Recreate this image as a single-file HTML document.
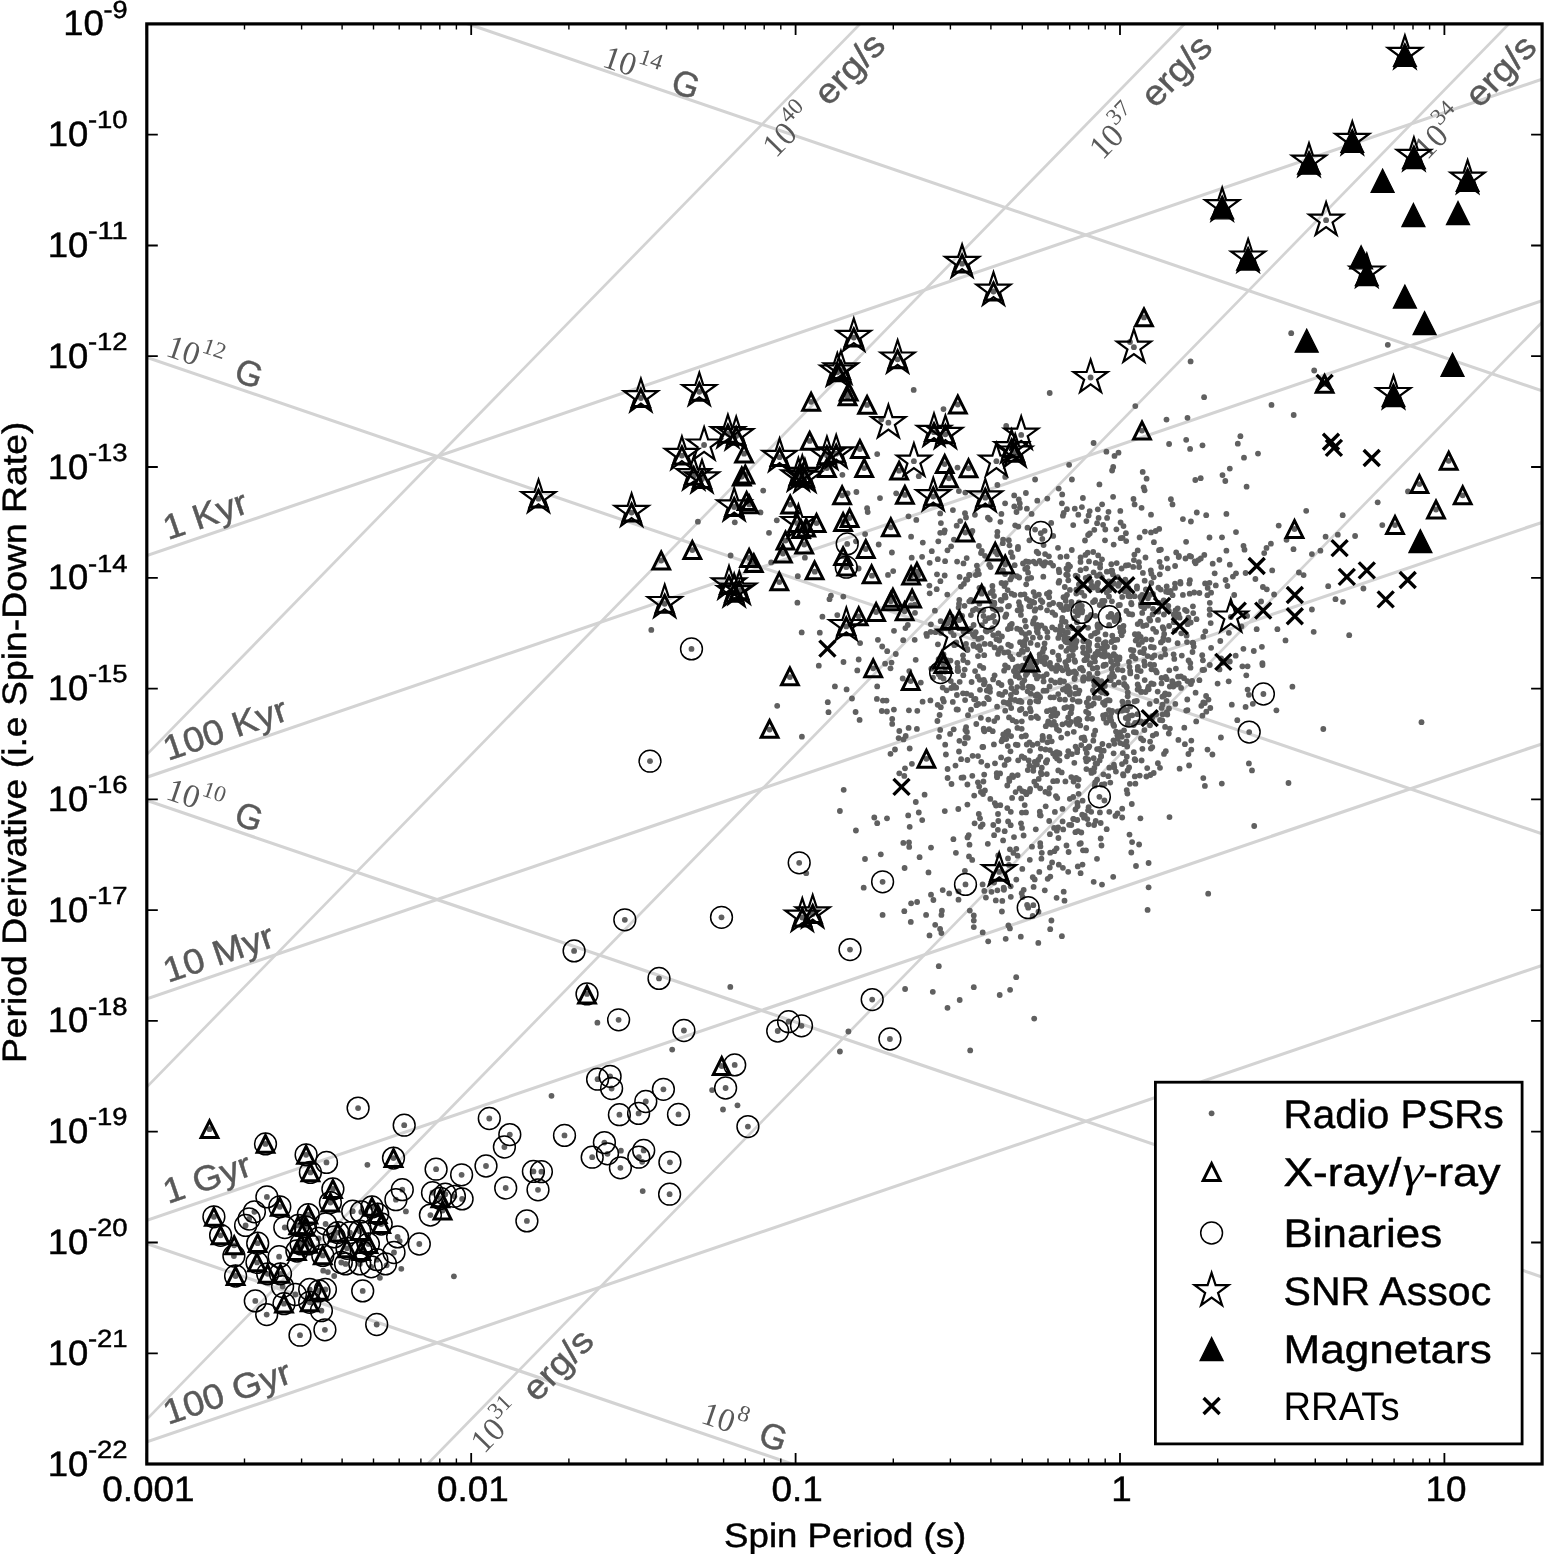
<!DOCTYPE html>
<html><head><meta charset="utf-8"><title>P-Pdot diagram</title>
<style>html,body{margin:0;padding:0;background:#fff}svg{display:block;filter:grayscale(1)}</style></head>
<body>
<svg width="1544" height="1554" viewBox="0 0 1544 1554" font-family="Liberation Sans, sans-serif" text-rendering="geometricPrecision">
<rect width="1544" height="1554" fill="#fff"/>
<defs><clipPath id="cp"><rect x="146.8" y="23.9" width="1395.2541305933955" height="1440.14"/></clipPath>
<polygon id="st" points="0.00,-17.80 4.00,-5.50 16.93,-5.50 6.47,2.10 10.46,14.40 0.00,6.80 -10.46,14.40 -6.47,2.10 -16.93,-5.50 -4.00,-5.50" fill="none" stroke="#000" stroke-width="2.2" stroke-linejoin="miter"/>
<polygon id="ot" points="0,-8.4 -8.4,8.4 8.4,8.4" fill="none" stroke="#000" stroke-width="3.0" stroke-linejoin="miter"/>
<polygon id="ft" points="0,-11.5 -11.5,11.5 11.5,11.5" fill="#000" stroke="#000" stroke-width="1.3" stroke-linejoin="miter"/>
<circle id="ci" r="10.9" fill="none" stroke="#000" stroke-width="1.5"/>
<path id="cr" d="M-8,-8L8,8M-8,8L8,-8" fill="none" stroke="#000" stroke-width="3.4"/>
<circle id="d" r="2.9" fill="#606060"/>
</defs>
<g clip-path="url(#cp)" stroke="#d3d3d1" stroke-width="3.1" fill="none">
<line x1="81.9" y1="1221.5" x2="1606.6" y2="1742.1"/>
<line x1="81.9" y1="778.3" x2="1606.6" y2="1299.0"/>
<line x1="81.9" y1="335.2" x2="1606.6" y2="855.9"/>
<line x1="81.9" y1="-107.9" x2="1606.6" y2="412.8"/>
<line x1="81.9" y1="577.8" x2="1606.6" y2="57.1"/>
<line x1="81.9" y1="799.4" x2="1606.6" y2="278.7"/>
<line x1="81.9" y1="1020.9" x2="1606.6" y2="500.3"/>
<line x1="81.9" y1="1242.5" x2="1606.6" y2="721.8"/>
<line x1="81.9" y1="1464.1" x2="1606.6" y2="943.4"/>
<line x1="81.9" y1="1818.1" x2="1606.6" y2="256.1" stroke-width="2.7"/>
<line x1="81.9" y1="1485.8" x2="1606.6" y2="-76.2" stroke-width="2.7"/>
<line x1="81.9" y1="1153.5" x2="1606.6" y2="-408.5" stroke-width="2.7"/>
<line x1="81.9" y1="821.1" x2="1606.6" y2="-740.9" stroke-width="2.7"/>
</g>
<g transform="translate(601.0,66.0) rotate(18.85)" fill="#595959"><text x="0" y="0" font-family="Liberation Serif, serif" font-size="33.0" textLength="33" lengthAdjust="spacingAndGlyphs">10</text><text x="33.5" y="-15" font-family="Liberation Serif, serif" font-size="23.0" textLength="23.5" lengthAdjust="spacingAndGlyphs">14</text><text x="63.0" y="1.8" font-size="35.2" textLength="36.6" lengthAdjust="spacingAndGlyphs" xml:space="preserve" fill="#595959" stroke="#595959" stroke-width="0.45"> G</text></g>
<g transform="translate(164.4,355.3) rotate(18.85)" fill="#595959"><text x="0" y="0" font-family="Liberation Serif, serif" font-size="33.0" textLength="33" lengthAdjust="spacingAndGlyphs">10</text><text x="33.5" y="-15" font-family="Liberation Serif, serif" font-size="23.0" textLength="23.5" lengthAdjust="spacingAndGlyphs">12</text><text x="63.0" y="1.8" font-size="35.2" textLength="36.6" lengthAdjust="spacingAndGlyphs" xml:space="preserve" fill="#595959" stroke="#595959" stroke-width="0.45"> G</text></g>
<g transform="translate(164.4,798.5) rotate(18.85)" fill="#595959"><text x="0" y="0" font-family="Liberation Serif, serif" font-size="33.0" textLength="33" lengthAdjust="spacingAndGlyphs">10</text><text x="33.5" y="-15" font-family="Liberation Serif, serif" font-size="23.0" textLength="23.5" lengthAdjust="spacingAndGlyphs">10</text><text x="63.0" y="1.8" font-size="35.2" textLength="36.6" lengthAdjust="spacingAndGlyphs" xml:space="preserve" fill="#595959" stroke="#595959" stroke-width="0.45"> G</text></g>
<g transform="translate(699.5,1422.3) rotate(18.85)" fill="#595959"><text x="0" y="0" font-family="Liberation Serif, serif" font-size="33.0" textLength="33" lengthAdjust="spacingAndGlyphs">10</text><text x="33.5" y="-15" font-family="Liberation Serif, serif" font-size="23.0" textLength="12" lengthAdjust="spacingAndGlyphs">8</text><text x="51.5" y="1.8" font-size="35.2" textLength="36.6" lengthAdjust="spacingAndGlyphs" xml:space="preserve" fill="#595959" stroke="#595959" stroke-width="0.45"> G</text></g>
<g transform="translate(168.0,540.2) rotate(-18.85)" fill="#595959"><text x="0.0" y="0.0" font-size="35.2" textLength="86.6" lengthAdjust="spacingAndGlyphs" xml:space="preserve" fill="#595959" stroke="#595959" stroke-width="0.45">1 Kyr</text></g>
<g transform="translate(168.0,761.0) rotate(-18.85)" fill="#595959"><text x="0.0" y="0.0" font-size="35.2" textLength="128.7" lengthAdjust="spacingAndGlyphs" xml:space="preserve" fill="#595959" stroke="#595959" stroke-width="0.45">100 Kyr</text></g>
<g transform="translate(168.0,983.0) rotate(-18.85)" fill="#595959"><text x="0.0" y="0.0" font-size="35.2" textLength="114.5" lengthAdjust="spacingAndGlyphs" xml:space="preserve" fill="#595959" stroke="#595959" stroke-width="0.45">10 Myr</text></g>
<g transform="translate(168.0,1204.0) rotate(-18.85)" fill="#595959"><text x="0.0" y="0.0" font-size="35.2" textLength="90.5" lengthAdjust="spacingAndGlyphs" xml:space="preserve" fill="#595959" stroke="#595959" stroke-width="0.45">1 Gyr</text></g>
<g transform="translate(168.0,1425.0) rotate(-18.85)" fill="#595959"><text x="0.0" y="0.0" font-size="35.2" textLength="132.7" lengthAdjust="spacingAndGlyphs" xml:space="preserve" fill="#595959" stroke="#595959" stroke-width="0.45">100 Gyr</text></g>
<g transform="translate(775.7,158.7) rotate(-45.69)" fill="#595959"><text x="0" y="0" font-family="Liberation Serif, serif" font-size="33.0" textLength="33" lengthAdjust="spacingAndGlyphs">10</text><text x="33.5" y="-15" font-family="Liberation Serif, serif" font-size="23.0" textLength="23.5" lengthAdjust="spacingAndGlyphs">40</text><text x="63.0" y="1.8" font-size="35.2" textLength="95.0" lengthAdjust="spacingAndGlyphs" xml:space="preserve" fill="#595959" stroke="#595959" stroke-width="0.45"> erg/s</text></g>
<g transform="translate(1102.5,160.7) rotate(-45.69)" fill="#595959"><text x="0" y="0" font-family="Liberation Serif, serif" font-size="33.0" textLength="33" lengthAdjust="spacingAndGlyphs">10</text><text x="33.5" y="-15" font-family="Liberation Serif, serif" font-size="23.0" textLength="23.5" lengthAdjust="spacingAndGlyphs">37</text><text x="63.0" y="1.8" font-size="35.2" textLength="95.0" lengthAdjust="spacingAndGlyphs" xml:space="preserve" fill="#595959" stroke="#595959" stroke-width="0.45"> erg/s</text></g>
<g transform="translate(1426.9,160.7) rotate(-45.69)" fill="#595959"><text x="0" y="0" font-family="Liberation Serif, serif" font-size="33.0" textLength="33" lengthAdjust="spacingAndGlyphs">10</text><text x="33.5" y="-15" font-family="Liberation Serif, serif" font-size="23.0" textLength="23.5" lengthAdjust="spacingAndGlyphs">34</text><text x="63.0" y="1.8" font-size="35.2" textLength="95.0" lengthAdjust="spacingAndGlyphs" xml:space="preserve" fill="#595959" stroke="#595959" stroke-width="0.45"> erg/s</text></g>
<g transform="translate(484.1,1454.6) rotate(-45.69)" fill="#595959"><text x="0" y="0" font-family="Liberation Serif, serif" font-size="33.0" textLength="33" lengthAdjust="spacingAndGlyphs">10</text><text x="33.5" y="-15" font-family="Liberation Serif, serif" font-size="23.0" textLength="23.5" lengthAdjust="spacingAndGlyphs">31</text><text x="63.0" y="1.8" font-size="35.2" textLength="95.0" lengthAdjust="spacingAndGlyphs" xml:space="preserve" fill="#595959" stroke="#595959" stroke-width="0.45"> erg/s</text></g>
<g clip-path="url(#cp)">
<g>
<use href="#d" x="1326.1" y="220.2"/>
<use href="#d" x="1291.2" y="333.2"/>
<use href="#d" x="1387.8" y="344.8"/>
<use href="#d" x="1190.6" y="361.4"/>
<use href="#d" x="1314.2" y="370.5"/>
<use href="#d" x="1204.1" y="397.2"/>
<use href="#d" x="913.7" y="389.9"/>
<use href="#d" x="1049.7" y="393.0"/>
<use href="#d" x="1090.6" y="377.5"/>
<use href="#d" x="1133.9" y="347.2"/>
<use href="#d" x="1130.0" y="342.0"/>
<use href="#d" x="697.9" y="521.7"/>
<use href="#d" x="734.8" y="522.3"/>
<use href="#d" x="760.5" y="512.4"/>
<use href="#d" x="763.2" y="490.6"/>
<use href="#d" x="730.6" y="555.5"/>
<use href="#d" x="651.3" y="629.9"/>
<use href="#d" x="704.1" y="445.0"/>
<use href="#d" x="691.5" y="648.9"/>
<use href="#d" x="650.0" y="761.2"/>
<use href="#d" x="1271.5" y="404.9"/>
<use href="#d" x="1293.7" y="415.0"/>
<use href="#d" x="1166.5" y="419.6"/>
<use href="#d" x="1187.5" y="417.8"/>
<use href="#d" x="1240.4" y="436.2"/>
<use href="#d" x="1237.8" y="443.7"/>
<use href="#d" x="1186.2" y="439.8"/>
<use href="#d" x="1169.1" y="444.0"/>
<use href="#d" x="1190.1" y="448.9"/>
<use href="#d" x="1202.5" y="445.3"/>
<use href="#d" x="1258.0" y="453.6"/>
<use href="#d" x="1244.0" y="457.7"/>
<use href="#d" x="1229.8" y="468.6"/>
<use href="#d" x="1222.5" y="475.1"/>
<use href="#d" x="1200.7" y="478.2"/>
<use href="#d" x="1195.3" y="480.0"/>
<use href="#d" x="1225.3" y="481.0"/>
<use href="#d" x="1246.6" y="486.7"/>
<use href="#d" x="1146.6" y="478.7"/>
<use href="#d" x="1170.9" y="499.2"/>
<use href="#d" x="1172.5" y="504.4"/>
<use href="#d" x="1306.2" y="510.8"/>
<use href="#d" x="1342.7" y="515.2"/>
<use href="#d" x="1226.4" y="513.9"/>
<use href="#d" x="1206.2" y="515.2"/>
<use href="#d" x="1182.9" y="519.1"/>
<use href="#d" x="1151.0" y="514.7"/>
<use href="#d" x="1278.7" y="525.6"/>
<use href="#d" x="1155.7" y="531.0"/>
<use href="#d" x="1236.0" y="532.1"/>
<use href="#d" x="1209.5" y="537.5"/>
<use href="#d" x="1222.0" y="537.3"/>
<use href="#d" x="1286.5" y="539.8"/>
<use href="#d" x="1325.6" y="536.7"/>
<use href="#d" x="1337.8" y="534.7"/>
<use href="#d" x="1355.1" y="536.0"/>
<use href="#d" x="1377.7" y="502.3"/>
<use href="#d" x="1408.0" y="491.4"/>
<use href="#d" x="1382.3" y="525.1"/>
<use href="#d" x="1270.9" y="543.7"/>
<use href="#d" x="1266.5" y="547.9"/>
<use href="#d" x="1243.5" y="545.8"/>
<use href="#d" x="1244.5" y="549.7"/>
<use href="#d" x="1293.5" y="549.2"/>
<use href="#d" x="1311.9" y="554.1"/>
<use href="#d" x="1320.4" y="550.7"/>
<use href="#d" x="1264.2" y="553.1"/>
<use href="#d" x="1226.4" y="550.7"/>
<use href="#d" x="1185.5" y="558.5"/>
<use href="#d" x="1198.4" y="560.1"/>
<use href="#d" x="1219.4" y="559.8"/>
<use href="#d" x="1212.7" y="563.7"/>
<use href="#d" x="1229.8" y="564.7"/>
<use href="#d" x="1175.1" y="566.0"/>
<use href="#d" x="1272.2" y="570.4"/>
<use href="#d" x="1298.9" y="572.5"/>
<use href="#d" x="1303.6" y="575.1"/>
<use href="#d" x="1214.7" y="573.3"/>
<use href="#d" x="1236.0" y="573.3"/>
<use href="#d" x="1232.9" y="576.6"/>
<use href="#d" x="1245.6" y="573.0"/>
<use href="#d" x="1255.4" y="579.0"/>
<use href="#d" x="1225.6" y="580.0"/>
<use href="#d" x="1209.5" y="582.8"/>
<use href="#d" x="1215.8" y="585.4"/>
<use href="#d" x="1227.4" y="586.0"/>
<use href="#d" x="1189.3" y="583.6"/>
<use href="#d" x="1180.5" y="583.6"/>
<use href="#d" x="1262.9" y="587.0"/>
<use href="#d" x="1266.8" y="589.3"/>
<use href="#d" x="1328.2" y="586.2"/>
<use href="#d" x="1363.4" y="588.5"/>
<use href="#d" x="1335.5" y="599.2"/>
<use href="#d" x="1343.0" y="601.8"/>
<use href="#d" x="1274.1" y="594.5"/>
<use href="#d" x="1234.2" y="595.0"/>
<use href="#d" x="1211.1" y="592.7"/>
<use href="#d" x="1261.1" y="601.5"/>
<use href="#d" x="1311.9" y="609.5"/>
<use href="#d" x="1313.7" y="631.8"/>
<use href="#d" x="1349.2" y="635.2"/>
<use href="#d" x="1277.4" y="629.2"/>
<use href="#d" x="1256.7" y="629.2"/>
<use href="#d" x="1285.5" y="640.4"/>
<use href="#d" x="1261.9" y="646.8"/>
<use href="#d" x="1262.4" y="663.2"/>
<use href="#d" x="1242.4" y="666.3"/>
<use href="#d" x="1247.6" y="666.3"/>
<use href="#d" x="1246.3" y="675.3"/>
<use href="#d" x="1228.7" y="681.3"/>
<use href="#d" x="1292.4" y="686.7"/>
<use href="#d" x="1247.6" y="689.6"/>
<use href="#d" x="1248.9" y="694.8"/>
<use href="#d" x="1276.4" y="710.3"/>
<use href="#d" x="1252.8" y="703.8"/>
<use href="#d" x="1245.6" y="706.9"/>
<use href="#d" x="1237.3" y="720.2"/>
<use href="#d" x="1220.9" y="737.5"/>
<use href="#d" x="1323.3" y="729.0"/>
<use href="#d" x="1421.5" y="722.2"/>
<use href="#d" x="1248.9" y="763.4"/>
<use href="#d" x="1252.0" y="770.4"/>
<use href="#d" x="1263.4" y="694.0"/>
<use href="#d" x="1249.2" y="732.1"/>
<use href="#d" x="1149.7" y="595.0"/>
<use href="#d" x="888.4" y="422.7"/>
<use href="#d" x="881.3" y="419.5"/>
<use href="#d" x="943.5" y="409.1"/>
<use href="#d" x="913.9" y="461.2"/>
<use href="#d" x="877.2" y="454.1"/>
<use href="#d" x="842.4" y="474.8"/>
<use href="#d" x="856.4" y="492.0"/>
<use href="#d" x="847.6" y="493.3"/>
<use href="#d" x="880.0" y="498.1"/>
<use href="#d" x="896.2" y="493.3"/>
<use href="#d" x="867.1" y="508.2"/>
<use href="#d" x="867.7" y="512.1"/>
<use href="#d" x="776.8" y="520.3"/>
<use href="#d" x="769.0" y="532.8"/>
<use href="#d" x="908.5" y="516.3"/>
<use href="#d" x="916.3" y="519.9"/>
<use href="#d" x="940.2" y="513.4"/>
<use href="#d" x="940.9" y="523.1"/>
<use href="#d" x="865.1" y="534.1"/>
<use href="#d" x="878.7" y="544.5"/>
<use href="#d" x="911.1" y="536.7"/>
<use href="#d" x="922.8" y="542.6"/>
<use href="#d" x="891.9" y="552.5"/>
<use href="#d" x="911.7" y="557.7"/>
<use href="#d" x="922.1" y="556.8"/>
<use href="#d" x="931.8" y="551.2"/>
<use href="#d" x="940.2" y="532.8"/>
<use href="#d" x="938.3" y="541.3"/>
<use href="#d" x="804.9" y="557.7"/>
<use href="#d" x="771.2" y="562.4"/>
<use href="#d" x="797.8" y="576.2"/>
<use href="#d" x="893.2" y="571.1"/>
<use href="#d" x="888.0" y="574.9"/>
<use href="#d" x="937.0" y="574.3"/>
<use href="#d" x="847.2" y="543.9"/>
<use href="#d" x="846.3" y="567.2"/>
<use href="#d" x="856.0" y="541.3"/>
<use href="#d" x="858.6" y="568.5"/>
<use href="#d" x="1135.3" y="406.1"/>
<use href="#d" x="1006.2" y="425.9"/>
<use href="#d" x="1021.2" y="434.9"/>
<use href="#d" x="1093.6" y="443.0"/>
<use href="#d" x="1106.4" y="451.7"/>
<use href="#d" x="1118.5" y="452.7"/>
<use href="#d" x="1114.5" y="455.9"/>
<use href="#d" x="1069.1" y="464.8"/>
<use href="#d" x="1113.2" y="466.9"/>
<use href="#d" x="1112.1" y="470.5"/>
<use href="#d" x="1142.7" y="471.9"/>
<use href="#d" x="957.5" y="467.6"/>
<use href="#d" x="1005.2" y="476.9"/>
<use href="#d" x="1035.1" y="479.5"/>
<use href="#d" x="1071.9" y="479.5"/>
<use href="#d" x="997.4" y="485.0"/>
<use href="#d" x="1099.4" y="484.4"/>
<use href="#d" x="1058.7" y="488.6"/>
<use href="#d" x="958.9" y="491.1"/>
<use href="#d" x="965.3" y="492.6"/>
<use href="#d" x="1025.9" y="493.0"/>
<use href="#d" x="1062.2" y="494.4"/>
<use href="#d" x="1082.9" y="498.0"/>
<use href="#d" x="1113.1" y="496.8"/>
<use href="#d" x="1133.5" y="499.0"/>
<use href="#d" x="1047.3" y="498.6"/>
<use href="#d" x="1037.3" y="500.7"/>
<use href="#d" x="1019.8" y="503.5"/>
<use href="#d" x="1014.3" y="506.5"/>
<use href="#d" x="1026.9" y="508.7"/>
<use href="#d" x="1102.1" y="504.3"/>
<use href="#d" x="1141.6" y="507.8"/>
<use href="#d" x="952.9" y="510.1"/>
<use href="#d" x="965.0" y="513.2"/>
<use href="#d" x="966.0" y="517.5"/>
<use href="#d" x="974.9" y="514.8"/>
<use href="#d" x="1001.4" y="513.9"/>
<use href="#d" x="989.8" y="519.6"/>
<use href="#d" x="1000.4" y="521.8"/>
<use href="#d" x="1066.9" y="509.2"/>
<use href="#d" x="1074.8" y="508.7"/>
<use href="#d" x="1081.9" y="507.2"/>
<use href="#d" x="1089.7" y="511.1"/>
<use href="#d" x="1108.5" y="511.8"/>
<use href="#d" x="1062.9" y="515.7"/>
<use href="#d" x="1078.3" y="514.7"/>
<use href="#d" x="1088.6" y="515.4"/>
<use href="#d" x="1098.6" y="517.9"/>
<use href="#d" x="1107.1" y="517.9"/>
<use href="#d" x="1086.4" y="521.1"/>
<use href="#d" x="1097.1" y="523.2"/>
<use href="#d" x="1073.2" y="525.1"/>
<use href="#d" x="1051.2" y="522.9"/>
<use href="#d" x="1015.2" y="525.3"/>
<use href="#d" x="1120.6" y="522.5"/>
<use href="#d" x="1123.5" y="526.1"/>
<use href="#d" x="1116.4" y="529.3"/>
<use href="#d" x="1125.9" y="533.2"/>
<use href="#d" x="996.4" y="461.2"/>
<use href="#d" x="997.4" y="531.8"/>
<use href="#d" x="972.4" y="531.0"/>
<use href="#d" x="1003.1" y="539.6"/>
<use href="#d" x="944.7" y="530.3"/>
<use href="#d" x="953.9" y="539.6"/>
<use href="#d" x="947.5" y="550.3"/>
<use href="#d" x="966.7" y="558.1"/>
<use href="#d" x="945.1" y="561.2"/>
<use href="#d" x="978.9" y="546.0"/>
<use href="#d" x="981.0" y="553.1"/>
<use href="#d" x="1009.5" y="545.3"/>
<use href="#d" x="1010.9" y="552.4"/>
<use href="#d" x="944.7" y="575.5"/>
<use href="#d" x="940.4" y="581.2"/>
<use href="#d" x="959.6" y="576.9"/>
<use href="#d" x="969.6" y="575.2"/>
<use href="#d" x="978.9" y="574.1"/>
<use href="#d" x="929.7" y="593.3"/>
<use href="#d" x="961.0" y="586.6"/>
<use href="#d" x="992.4" y="585.9"/>
<use href="#d" x="1035.1" y="529.6"/>
<use href="#d" x="1040.8" y="533.2"/>
<use href="#d" x="1042.3" y="538.9"/>
<use href="#d" x="1029.4" y="540.3"/>
<use href="#d" x="830.9" y="595.6"/>
<use href="#d" x="829.5" y="599.2"/>
<use href="#d" x="843.3" y="596.6"/>
<use href="#d" x="797.4" y="602.7"/>
<use href="#d" x="822.4" y="616.7"/>
<use href="#d" x="837.3" y="615.1"/>
<use href="#d" x="801.7" y="632.4"/>
<use href="#d" x="819.8" y="632.7"/>
<use href="#d" x="860.1" y="643.1"/>
<use href="#d" x="877.9" y="639.8"/>
<use href="#d" x="882.2" y="646.5"/>
<use href="#d" x="887.2" y="651.2"/>
<use href="#d" x="894.0" y="630.8"/>
<use href="#d" x="905.4" y="628.1"/>
<use href="#d" x="903.2" y="640.2"/>
<use href="#d" x="914.7" y="639.8"/>
<use href="#d" x="895.8" y="654.0"/>
<use href="#d" x="858.7" y="659.5"/>
<use href="#d" x="843.5" y="662.0"/>
<use href="#d" x="818.8" y="665.7"/>
<use href="#d" x="857.3" y="670.4"/>
<use href="#d" x="885.1" y="663.7"/>
<use href="#d" x="891.5" y="662.6"/>
<use href="#d" x="890.5" y="668.3"/>
<use href="#d" x="909.3" y="671.1"/>
<use href="#d" x="834.9" y="686.4"/>
<use href="#d" x="846.6" y="689.4"/>
<use href="#d" x="877.2" y="686.4"/>
<use href="#d" x="852.0" y="698.5"/>
<use href="#d" x="827.8" y="702.2"/>
<use href="#d" x="876.9" y="698.9"/>
<use href="#d" x="882.9" y="700.6"/>
<use href="#d" x="886.5" y="700.6"/>
<use href="#d" x="777.2" y="705.8"/>
<use href="#d" x="828.5" y="712.2"/>
<use href="#d" x="855.6" y="712.0"/>
<use href="#d" x="881.8" y="711.0"/>
<use href="#d" x="886.9" y="711.5"/>
<use href="#d" x="893.9" y="709.6"/>
<use href="#d" x="908.9" y="710.3"/>
<use href="#d" x="859.6" y="719.9"/>
<use href="#d" x="892.2" y="718.9"/>
<use href="#d" x="892.2" y="723.9"/>
<use href="#d" x="801.9" y="736.7"/>
<use href="#d" x="899.3" y="731.0"/>
<use href="#d" x="908.6" y="727.9"/>
<use href="#d" x="898.6" y="738.1"/>
<use href="#d" x="905.7" y="736.0"/>
<use href="#d" x="895.0" y="749.5"/>
<use href="#d" x="890.5" y="753.8"/>
<use href="#d" x="909.7" y="748.5"/>
<use href="#d" x="911.9" y="763.8"/>
<use href="#d" x="905.0" y="768.3"/>
<use href="#d" x="899.3" y="773.3"/>
<use href="#d" x="904.3" y="775.9"/>
<use href="#d" x="789.9" y="677.1"/>
<use href="#d" x="769.6" y="729.6"/>
<use href="#d" x="779.3" y="582.1"/>
<use href="#d" x="814.8" y="571.7"/>
<use href="#d" x="872.0" y="575.7"/>
<use href="#d" x="799.2" y="862.8"/>
<use href="#d" x="882.6" y="881.8"/>
<use href="#d" x="965.5" y="884.4"/>
<use href="#d" x="1028.2" y="907.7"/>
<use href="#d" x="1099.4" y="796.8"/>
<use href="#d" x="850.0" y="949.6"/>
<use href="#d" x="872.2" y="999.6"/>
<use href="#d" x="889.9" y="1039.0"/>
<use href="#d" x="788.6" y="1021.7"/>
<use href="#d" x="801.5" y="1025.8"/>
<use href="#d" x="777.7" y="1031.0"/>
<use href="#d" x="747.9" y="1126.6"/>
<use href="#d" x="843.7" y="789.8"/>
<use href="#d" x="839.9" y="811.0"/>
<use href="#d" x="855.9" y="830.5"/>
<use href="#d" x="874.3" y="817.5"/>
<use href="#d" x="877.2" y="823.2"/>
<use href="#d" x="887.0" y="818.3"/>
<use href="#d" x="908.2" y="815.4"/>
<use href="#d" x="922.2" y="820.1"/>
<use href="#d" x="903.3" y="842.9"/>
<use href="#d" x="909.0" y="842.4"/>
<use href="#d" x="931.0" y="847.6"/>
<use href="#d" x="880.8" y="854.3"/>
<use href="#d" x="865.0" y="859.0"/>
<use href="#d" x="919.6" y="857.2"/>
<use href="#d" x="904.6" y="868.0"/>
<use href="#d" x="806.2" y="873.2"/>
<use href="#d" x="863.7" y="887.7"/>
<use href="#d" x="931.0" y="894.7"/>
<use href="#d" x="942.7" y="890.1"/>
<use href="#d" x="949.2" y="893.4"/>
<use href="#d" x="911.1" y="903.3"/>
<use href="#d" x="917.1" y="902.0"/>
<use href="#d" x="882.6" y="914.9"/>
<use href="#d" x="926.1" y="914.9"/>
<use href="#d" x="910.8" y="921.9"/>
<use href="#d" x="935.2" y="924.8"/>
<use href="#d" x="940.1" y="928.9"/>
<use href="#d" x="941.4" y="933.1"/>
<use href="#d" x="929.5" y="935.4"/>
<use href="#d" x="973.8" y="915.4"/>
<use href="#d" x="973.8" y="920.6"/>
<use href="#d" x="973.8" y="927.1"/>
<use href="#d" x="1005.7" y="938.8"/>
<use href="#d" x="1038.3" y="942.9"/>
<use href="#d" x="1050.2" y="929.2"/>
<use href="#d" x="1061.9" y="936.2"/>
<use href="#d" x="938.8" y="966.2"/>
<use href="#d" x="905.1" y="989.0"/>
<use href="#d" x="973.8" y="987.2"/>
<use href="#d" x="999.7" y="995.0"/>
<use href="#d" x="1010.1" y="989.8"/>
<use href="#d" x="848.4" y="1031.5"/>
<use href="#d" x="839.9" y="1051.5"/>
<use href="#d" x="970.2" y="1050.4"/>
<use href="#d" x="1093.7" y="881.8"/>
<use href="#d" x="1102.0" y="884.6"/>
<use href="#d" x="1113.2" y="876.8"/>
<use href="#d" x="1136.0" y="866.0"/>
<use href="#d" x="1131.3" y="852.5"/>
<use href="#d" x="1132.1" y="842.1"/>
<use href="#d" x="1129.5" y="834.6"/>
<use href="#d" x="1140.4" y="818.3"/>
<use href="#d" x="1044.8" y="890.3"/>
<use href="#d" x="1033.6" y="886.9"/>
<use href="#d" x="1021.7" y="893.2"/>
<use href="#d" x="1010.8" y="896.8"/>
<use href="#d" x="1002.3" y="900.9"/>
<use href="#d" x="995.8" y="900.4"/>
<use href="#d" x="997.4" y="890.3"/>
<use href="#d" x="1003.8" y="888.8"/>
<use href="#d" x="982.6" y="884.4"/>
<use href="#d" x="1034.7" y="879.4"/>
<use href="#d" x="1039.3" y="871.9"/>
<use href="#d" x="1041.4" y="858.7"/>
<use href="#d" x="1058.8" y="864.7"/>
<use href="#d" x="1062.9" y="867.8"/>
<use href="#d" x="1054.4" y="851.2"/>
<use href="#d" x="1068.6" y="852.0"/>
<use href="#d" x="1066.5" y="845.5"/>
<use href="#d" x="1086.0" y="850.4"/>
<use href="#d" x="1080.8" y="843.2"/>
<use href="#d" x="1101.5" y="845.5"/>
<use href="#d" x="1100.7" y="838.5"/>
<use href="#d" x="1081.3" y="832.5"/>
<use href="#d" x="1063.2" y="829.4"/>
<use href="#d" x="1069.1" y="824.8"/>
<use href="#d" x="1073.5" y="819.1"/>
<use href="#d" x="1087.3" y="819.1"/>
<use href="#d" x="1100.7" y="823.0"/>
<use href="#d" x="1106.7" y="829.2"/>
<use href="#d" x="1109.3" y="811.8"/>
<use href="#d" x="1122.2" y="808.7"/>
<use href="#d" x="1131.8" y="804.0"/>
<use href="#d" x="1091.2" y="811.8"/>
<use href="#d" x="624.8" y="919.8"/>
<use href="#d" x="721.5" y="917.3"/>
<use href="#d" x="574.1" y="950.9"/>
<use href="#d" x="659.0" y="978.4"/>
<use href="#d" x="587.0" y="993.9"/>
<use href="#d" x="618.6" y="1019.8"/>
<use href="#d" x="683.9" y="1030.5"/>
<use href="#d" x="734.7" y="1064.9"/>
<use href="#d" x="725.6" y="1088.0"/>
<use href="#d" x="597.6" y="1079.2"/>
<use href="#d" x="610.1" y="1076.3"/>
<use href="#d" x="611.6" y="1088.5"/>
<use href="#d" x="663.4" y="1089.3"/>
<use href="#d" x="645.8" y="1101.5"/>
<use href="#d" x="638.6" y="1113.4"/>
<use href="#d" x="619.4" y="1114.7"/>
<use href="#d" x="678.5" y="1114.4"/>
<use href="#d" x="489.3" y="1118.5"/>
<use href="#d" x="509.8" y="1134.6"/>
<use href="#d" x="504.4" y="1147.0"/>
<use href="#d" x="564.5" y="1135.4"/>
<use href="#d" x="604.4" y="1142.6"/>
<use href="#d" x="607.5" y="1153.8"/>
<use href="#d" x="592.2" y="1157.2"/>
<use href="#d" x="643.7" y="1150.4"/>
<use href="#d" x="638.8" y="1157.2"/>
<use href="#d" x="620.4" y="1167.8"/>
<use href="#d" x="669.9" y="1162.3"/>
<use href="#d" x="486.0" y="1166.0"/>
<use href="#d" x="461.6" y="1174.8"/>
<use href="#d" x="533.4" y="1171.4"/>
<use href="#d" x="541.4" y="1171.7"/>
<use href="#d" x="505.7" y="1188.0"/>
<use href="#d" x="538.0" y="1189.8"/>
<use href="#d" x="669.6" y="1194.2"/>
<use href="#d" x="526.9" y="1220.9"/>
<use href="#d" x="454.4" y="1196.3"/>
<use href="#d" x="462.1" y="1198.9"/>
<use href="#d" x="445.3" y="1194.2"/>
<use href="#d" x="730.3" y="986.9"/>
<use href="#d" x="597.4" y="1022.7"/>
<use href="#d" x="672.2" y="1049.6"/>
<use href="#d" x="551.5" y="1095.8"/>
<use href="#d" x="712.1" y="1090.1"/>
<use href="#d" x="723.0" y="1109.5"/>
<use href="#d" x="737.5" y="1105.3"/>
<use href="#d" x="620.9" y="1150.7"/>
<use href="#d" x="642.2" y="1161.8"/>
<use href="#d" x="642.7" y="1191.1"/>
<use href="#d" x="1288.5" y="783.0"/>
<use href="#d" x="1221.8" y="783.6"/>
<use href="#d" x="1203.3" y="778.1"/>
<use href="#d" x="1204.9" y="785.9"/>
<use href="#d" x="1254.2" y="826.0"/>
<use href="#d" x="1208.2" y="893.7"/>
<use href="#d" x="1148.6" y="863.0"/>
<use href="#d" x="1148.6" y="887.3"/>
<use href="#d" x="1147.6" y="909.9"/>
<use href="#d" x="1189.1" y="765.5"/>
<use href="#d" x="1212.4" y="754.5"/>
<use href="#d" x="1207.5" y="749.6"/>
<use href="#d" x="1191.3" y="749.6"/>
<use href="#d" x="1191.3" y="740.6"/>
<use href="#d" x="1178.4" y="739.9"/>
<use href="#d" x="209.5" y="1129.2"/>
<use href="#d" x="234.2" y="1245.3"/>
<use href="#d" x="265.5" y="1143.9"/>
<use href="#d" x="306.1" y="1154.8"/>
<use href="#d" x="310.4" y="1172.4"/>
<use href="#d" x="393.5" y="1158.1"/>
<use href="#d" x="332.9" y="1189.0"/>
<use href="#d" x="330.4" y="1202.6"/>
<use href="#d" x="279.8" y="1206.8"/>
<use href="#d" x="213.9" y="1216.8"/>
<use href="#d" x="220.6" y="1235.3"/>
<use href="#d" x="257.7" y="1243.2"/>
<use href="#d" x="257.0" y="1262.4"/>
<use href="#d" x="235.6" y="1276.0"/>
<use href="#d" x="267.7" y="1273.8"/>
<use href="#d" x="280.5" y="1273.8"/>
<use href="#d" x="308.3" y="1214.7"/>
<use href="#d" x="298.3" y="1225.4"/>
<use href="#d" x="305.4" y="1226.8"/>
<use href="#d" x="301.1" y="1243.9"/>
<use href="#d" x="308.3" y="1243.9"/>
<use href="#d" x="296.9" y="1251.0"/>
<use href="#d" x="319.0" y="1290.9"/>
<use href="#d" x="284.0" y="1303.7"/>
<use href="#d" x="309.7" y="1302.3"/>
<use href="#d" x="326.5" y="1162.4"/>
<use href="#d" x="358.1" y="1108.1"/>
<use href="#d" x="404.2" y="1125.2"/>
<use href="#d" x="266.9" y="1196.9"/>
<use href="#d" x="254.4" y="1211.8"/>
<use href="#d" x="249.1" y="1219.0"/>
<use href="#d" x="245.6" y="1225.4"/>
<use href="#d" x="233.9" y="1256.0"/>
<use href="#d" x="279.1" y="1256.7"/>
<use href="#d" x="284.8" y="1227.5"/>
<use href="#d" x="395.9" y="1199.7"/>
<use href="#d" x="402.3" y="1189.7"/>
<use href="#d" x="362.7" y="1290.9"/>
<use href="#d" x="255.3" y="1300.9"/>
<use href="#d" x="282.6" y="1286.6"/>
<use href="#d" x="295.4" y="1294.5"/>
<use href="#d" x="309.7" y="1289.5"/>
<use href="#d" x="325.4" y="1289.5"/>
<use href="#d" x="367.4" y="1164.8"/>
<use href="#d" x="323.2" y="1270.7"/>
<use href="#d" x="327.9" y="1272.1"/>
<use href="#d" x="334.2" y="1276.0"/>
<use href="#d" x="379.9" y="1277.8"/>
<use href="#d" x="401.3" y="1268.8"/>
<use href="#d" x="405.9" y="1211.4"/>
<use href="#d" x="386.6" y="1265.3"/>
<use href="#d" x="440.4" y="1198.4"/>
<use href="#d" x="337.8" y="1232.6"/>
<use href="#d" x="359.8" y="1231.2"/>
<use href="#d" x="368.4" y="1244.0"/>
<use href="#d" x="322.8" y="1255.4"/>
<use href="#d" x="361.3" y="1251.1"/>
<use href="#d" x="347.0" y="1248.3"/>
<use href="#d" x="372.0" y="1206.9"/>
<use href="#d" x="377.7" y="1214.1"/>
<use href="#d" x="381.2" y="1224.0"/>
<use href="#d" x="436.1" y="1169.2"/>
<use href="#d" x="432.5" y="1192.7"/>
<use href="#d" x="430.4" y="1215.1"/>
<use href="#d" x="352.7" y="1211.2"/>
<use href="#d" x="361.3" y="1211.9"/>
<use href="#d" x="325.6" y="1224.0"/>
<use href="#d" x="397.6" y="1236.9"/>
<use href="#d" x="394.0" y="1252.5"/>
<use href="#d" x="376.9" y="1259.7"/>
<use href="#d" x="371.2" y="1266.8"/>
<use href="#d" x="345.6" y="1263.9"/>
<use href="#d" x="341.3" y="1262.5"/>
<use href="#d" x="359.8" y="1263.9"/>
<use href="#d" x="334.2" y="1236.9"/>
<use href="#d" x="318.5" y="1238.3"/>
<use href="#d" x="349.9" y="1232.6"/>
<use href="#d" x="419.3" y="1244.0"/>
<use href="#d" x="321.4" y="1310.7"/>
<use href="#d" x="376.7" y="1324.5"/>
<use href="#d" x="324.9" y="1329.8"/>
<use href="#d" x="300.0" y="1335.2"/>
<use href="#d" x="453.9" y="1276.3"/>
<use href="#d" x="399.7" y="1241.1"/>
<use href="#d" x="266.7" y="1314.6"/>
<use href="#d" x="1324.6" y="383.9"/>
<use href="#d" x="1144.0" y="317.4"/>
<use href="#d" x="962.1" y="263.7"/>
<use href="#d" x="993.5" y="291.5"/>
<use href="#d" x="853.8" y="337.6"/>
<use href="#d" x="897.6" y="359.3"/>
<use href="#d" x="837.3" y="372.3"/>
<use href="#d" x="840.9" y="370.2"/>
<use href="#d" x="847.6" y="396.4"/>
<use href="#d" x="640.9" y="398.0"/>
<use href="#d" x="699.3" y="391.8"/>
<use href="#d" x="538.5" y="498.7"/>
<use href="#d" x="631.6" y="512.6"/>
<use href="#d" x="664.7" y="603.8"/>
<use href="#d" x="681.9" y="455.6"/>
<use href="#d" x="727.9" y="433.8"/>
<use href="#d" x="736.2" y="435.9"/>
<use href="#d" x="693.7" y="475.9"/>
<use href="#d" x="702.0" y="479.0"/>
<use href="#d" x="734.2" y="507.0"/>
<use href="#d" x="729.0" y="585.1"/>
<use href="#d" x="734.2" y="592.8"/>
<use href="#d" x="739.3" y="590.3"/>
<use href="#d" x="744.1" y="453.7"/>
<use href="#d" x="741.8" y="476.5"/>
<use href="#d" x="746.6" y="501.0"/>
<use href="#d" x="692.3" y="550.1"/>
<use href="#d" x="661.2" y="560.5"/>
<use href="#d" x="749.1" y="558.0"/>
<use href="#d" x="753.8" y="563.2"/>
<use href="#d" x="1448.7" y="460.8"/>
<use href="#d" x="1419.4" y="484.1"/>
<use href="#d" x="1462.7" y="495.3"/>
<use href="#d" x="1436.0" y="509.5"/>
<use href="#d" x="1395.0" y="525.1"/>
<use href="#d" x="1294.5" y="529.0"/>
<use href="#d" x="811.1" y="401.8"/>
<use href="#d" x="848.7" y="391.7"/>
<use href="#d" x="867.1" y="404.9"/>
<use href="#d" x="809.7" y="440.9"/>
<use href="#d" x="859.9" y="449.0"/>
<use href="#d" x="864.2" y="468.1"/>
<use href="#d" x="779.6" y="457.2"/>
<use href="#d" x="826.9" y="468.1"/>
<use href="#d" x="899.1" y="470.7"/>
<use href="#d" x="842.1" y="495.3"/>
<use href="#d" x="904.9" y="494.9"/>
<use href="#d" x="790.2" y="504.6"/>
<use href="#d" x="849.6" y="518.0"/>
<use href="#d" x="843.1" y="522.1"/>
<use href="#d" x="816.5" y="523.1"/>
<use href="#d" x="890.8" y="527.3"/>
<use href="#d" x="797.1" y="523.1"/>
<use href="#d" x="801.0" y="529.0"/>
<use href="#d" x="806.2" y="527.7"/>
<use href="#d" x="785.5" y="540.6"/>
<use href="#d" x="804.2" y="544.5"/>
<use href="#d" x="782.9" y="553.6"/>
<use href="#d" x="865.8" y="549.0"/>
<use href="#d" x="843.1" y="556.2"/>
<use href="#d" x="911.1" y="575.6"/>
<use href="#d" x="916.9" y="571.7"/>
<use href="#d" x="745.3" y="474.6"/>
<use href="#d" x="749.2" y="504.4"/>
<use href="#d" x="798.4" y="476.6"/>
<use href="#d" x="802.3" y="474.0"/>
<use href="#d" x="804.9" y="477.9"/>
<use href="#d" x="826.9" y="455.3"/>
<use href="#d" x="836.2" y="453.7"/>
<use href="#d" x="1011.6" y="448.5"/>
<use href="#d" x="1015.2" y="452.8"/>
<use href="#d" x="985.3" y="497.7"/>
<use href="#d" x="933.3" y="496.6"/>
<use href="#d" x="934.0" y="432.2"/>
<use href="#d" x="945.4" y="434.3"/>
<use href="#d" x="957.8" y="404.5"/>
<use href="#d" x="944.7" y="464.1"/>
<use href="#d" x="968.5" y="468.3"/>
<use href="#d" x="948.9" y="478.3"/>
<use href="#d" x="965.3" y="532.5"/>
<use href="#d" x="995.2" y="551.7"/>
<use href="#d" x="1005.2" y="564.5"/>
<use href="#d" x="981.7" y="593.7"/>
<use href="#d" x="1142.0" y="430.6"/>
<use href="#d" x="892.9" y="597.8"/>
<use href="#d" x="890.8" y="601.3"/>
<use href="#d" x="912.1" y="598.5"/>
<use href="#d" x="904.6" y="611.3"/>
<use href="#d" x="876.1" y="612.0"/>
<use href="#d" x="858.7" y="616.3"/>
<use href="#d" x="846.3" y="626.4"/>
<use href="#d" x="873.2" y="668.3"/>
<use href="#d" x="910.7" y="681.1"/>
<use href="#d" x="926.4" y="758.8"/>
<use href="#d" x="942.1" y="659.7"/>
<use href="#d" x="949.9" y="619.8"/>
<use href="#d" x="959.2" y="619.8"/>
<use href="#d" x="1030.5" y="662.6"/>
<use href="#d" x="943.3" y="664.0"/>
<use href="#d" x="999.2" y="871.9"/>
<use href="#d" x="802.3" y="917.5"/>
<use href="#d" x="812.7" y="914.1"/>
<use href="#d" x="721.7" y="1066.0"/>
<use href="#d" x="442.5" y="1210.5"/>
<use href="#d" x="1404.9" y="53.4"/>
<use href="#d" x="1352.3" y="139.4"/>
<use href="#d" x="1309.0" y="161.1"/>
<use href="#d" x="1413.9" y="155.4"/>
<use href="#d" x="1467.6" y="178.2"/>
<use href="#d" x="1222.2" y="205.7"/>
<use href="#d" x="1248.1" y="257.0"/>
<use href="#d" x="1366.8" y="272.0"/>
<use href="#d" x="1393.5" y="393.5"/>
<use href="#d" x="1230.8" y="617.0"/>
<use href="#d" x="953.7" y="635.2"/>
<use href="#d" x="940.6" y="672.6"/>
<use href="#d" x="988.6" y="618.1"/>
<use href="#d" x="1081.9" y="612.4"/>
<use href="#d" x="1109.3" y="616.7"/>
<use href="#d" x="1129.0" y="716.0"/>
<use href="#d" x="1047.3" y="631.9"/>
<use href="#d" x="1059.1" y="604.6"/>
<use href="#d" x="920.8" y="682.6"/>
<use href="#d" x="1021.7" y="736.6"/>
<use href="#d" x="1204.8" y="703.1"/>
<use href="#d" x="1066.5" y="568.5"/>
<use href="#d" x="1050.5" y="697.3"/>
<use href="#d" x="1137.8" y="666.8"/>
<use href="#d" x="1040.8" y="748.6"/>
<use href="#d" x="1108.9" y="710.1"/>
<use href="#d" x="1137.6" y="689.6"/>
<use href="#d" x="1075.6" y="746.6"/>
<use href="#d" x="1166.8" y="679.2"/>
<use href="#d" x="1130.2" y="671.1"/>
<use href="#d" x="1144.2" y="608.2"/>
<use href="#d" x="1181.3" y="633.3"/>
<use href="#d" x="1076.3" y="593.6"/>
<use href="#d" x="1098.6" y="639.5"/>
<use href="#d" x="1076.6" y="641.0"/>
<use href="#d" x="1093.2" y="657.3"/>
<use href="#d" x="943.6" y="678.7"/>
<use href="#d" x="1127.7" y="696.3"/>
<use href="#d" x="1094.4" y="768.0"/>
<use href="#d" x="1014.4" y="691.3"/>
<use href="#d" x="1066.7" y="556.4"/>
<use href="#d" x="996.0" y="610.2"/>
<use href="#d" x="1169.9" y="728.6"/>
<use href="#d" x="1170.6" y="590.9"/>
<use href="#d" x="1048.3" y="721.3"/>
<use href="#d" x="1168.8" y="733.5"/>
<use href="#d" x="1153.1" y="628.8"/>
<use href="#d" x="977.7" y="647.4"/>
<use href="#d" x="1074.3" y="637.8"/>
<use href="#d" x="1109.3" y="767.7"/>
<use href="#d" x="1052.2" y="667.9"/>
<use href="#d" x="1127.9" y="592.1"/>
<use href="#d" x="984.7" y="643.9"/>
<use href="#d" x="1036.6" y="661.9"/>
<use href="#d" x="1137.7" y="684.5"/>
<use href="#d" x="997.1" y="706.7"/>
<use href="#d" x="998.4" y="633.4"/>
<use href="#d" x="1135.5" y="658.6"/>
<use href="#d" x="1083.0" y="670.6"/>
<use href="#d" x="1199.4" y="593.0"/>
<use href="#d" x="1092.9" y="678.1"/>
<use href="#d" x="989.2" y="729.2"/>
<use href="#d" x="1049.4" y="736.9"/>
<use href="#d" x="1044.6" y="643.4"/>
<use href="#d" x="1110.1" y="680.0"/>
<use href="#d" x="1071.3" y="825.0"/>
<use href="#d" x="1044.2" y="648.3"/>
<use href="#d" x="1031.2" y="577.8"/>
<use href="#d" x="1161.6" y="678.0"/>
<use href="#d" x="996.5" y="639.2"/>
<use href="#d" x="963.5" y="563.4"/>
<use href="#d" x="1017.2" y="687.1"/>
<use href="#d" x="1010.5" y="751.3"/>
<use href="#d" x="978.0" y="756.1"/>
<use href="#d" x="1143.1" y="625.9"/>
<use href="#d" x="1150.2" y="718.2"/>
<use href="#d" x="998.2" y="633.7"/>
<use href="#d" x="1172.6" y="595.2"/>
<use href="#d" x="1061.7" y="772.4"/>
<use href="#d" x="1247.1" y="615.9"/>
<use href="#d" x="1056.9" y="729.1"/>
<use href="#d" x="1093.2" y="552.0"/>
<use href="#d" x="1124.0" y="677.9"/>
<use href="#d" x="1092.1" y="718.8"/>
<use href="#d" x="1017.1" y="628.7"/>
<use href="#d" x="1071.4" y="602.0"/>
<use href="#d" x="1058.3" y="655.6"/>
<use href="#d" x="1180.3" y="582.0"/>
<use href="#d" x="1101.2" y="684.2"/>
<use href="#d" x="993.9" y="744.4"/>
<use href="#d" x="994.6" y="647.4"/>
<use href="#d" x="1000.9" y="648.2"/>
<use href="#d" x="1092.8" y="668.4"/>
<use href="#d" x="1048.9" y="556.3"/>
<use href="#d" x="1025.2" y="568.9"/>
<use href="#d" x="1133.8" y="732.1"/>
<use href="#d" x="1047.2" y="760.1"/>
<use href="#d" x="1005.0" y="595.6"/>
<use href="#d" x="1114.2" y="684.8"/>
<use href="#d" x="953.7" y="729.3"/>
<use href="#d" x="1097.5" y="625.4"/>
<use href="#d" x="1012.4" y="659.2"/>
<use href="#d" x="1123.5" y="625.8"/>
<use href="#d" x="1110.4" y="717.2"/>
<use href="#d" x="1058.0" y="547.8"/>
<use href="#d" x="997.3" y="554.3"/>
<use href="#d" x="1018.0" y="547.0"/>
<use href="#d" x="1059.2" y="753.1"/>
<use href="#d" x="1065.6" y="621.9"/>
<use href="#d" x="1176.4" y="684.5"/>
<use href="#d" x="1101.1" y="750.8"/>
<use href="#d" x="1103.6" y="643.4"/>
<use href="#d" x="1001.5" y="685.0"/>
<use href="#d" x="1051.1" y="680.3"/>
<use href="#d" x="998.0" y="653.9"/>
<use href="#d" x="1081.5" y="592.4"/>
<use href="#d" x="1119.3" y="659.3"/>
<use href="#d" x="1204.3" y="554.9"/>
<use href="#d" x="1178.9" y="555.9"/>
<use href="#d" x="1035.4" y="695.5"/>
<use href="#d" x="1069.1" y="642.4"/>
<use href="#d" x="1159.2" y="528.9"/>
<use href="#d" x="1033.6" y="592.1"/>
<use href="#d" x="1241.4" y="626.4"/>
<use href="#d" x="1175.5" y="610.3"/>
<use href="#d" x="1117.8" y="669.7"/>
<use href="#d" x="1040.9" y="772.3"/>
<use href="#d" x="1164.2" y="634.0"/>
<use href="#d" x="967.9" y="737.8"/>
<use href="#d" x="1128.1" y="702.5"/>
<use href="#d" x="943.5" y="654.5"/>
<use href="#d" x="1061.1" y="607.3"/>
<use href="#d" x="1164.6" y="649.2"/>
<use href="#d" x="1113.6" y="753.3"/>
<use href="#d" x="1116.2" y="659.7"/>
<use href="#d" x="1186.8" y="622.0"/>
<use href="#d" x="1091.0" y="770.6"/>
<use href="#d" x="1144.7" y="665.5"/>
<use href="#d" x="990.5" y="592.9"/>
<use href="#d" x="1052.4" y="612.5"/>
<use href="#d" x="1173.6" y="654.3"/>
<use href="#d" x="1070.0" y="566.3"/>
<use href="#d" x="1021.0" y="610.1"/>
<use href="#d" x="1150.1" y="741.6"/>
<use href="#d" x="1110.7" y="680.2"/>
<use href="#d" x="1007.9" y="629.0"/>
<use href="#d" x="973.0" y="634.4"/>
<use href="#d" x="940.2" y="729.9"/>
<use href="#d" x="1029.6" y="600.7"/>
<use href="#d" x="1147.9" y="598.3"/>
<use href="#d" x="992.4" y="628.2"/>
<use href="#d" x="1130.1" y="596.4"/>
<use href="#d" x="1070.0" y="692.0"/>
<use href="#d" x="1207.4" y="595.2"/>
<use href="#d" x="1155.7" y="670.6"/>
<use href="#d" x="1121.7" y="635.3"/>
<use href="#d" x="967.4" y="579.6"/>
<use href="#d" x="1019.0" y="654.3"/>
<use href="#d" x="1042.4" y="739.9"/>
<use href="#d" x="1053.1" y="603.0"/>
<use href="#d" x="1133.2" y="566.9"/>
<use href="#d" x="1086.1" y="653.6"/>
<use href="#d" x="1087.7" y="552.7"/>
<use href="#d" x="1111.1" y="661.4"/>
<use href="#d" x="990.4" y="644.0"/>
<use href="#d" x="1080.6" y="557.4"/>
<use href="#d" x="1109.6" y="700.4"/>
<use href="#d" x="1153.7" y="577.3"/>
<use href="#d" x="1127.0" y="710.2"/>
<use href="#d" x="983.3" y="667.9"/>
<use href="#d" x="1104.5" y="651.7"/>
<use href="#d" x="1152.0" y="657.5"/>
<use href="#d" x="945.9" y="754.5"/>
<use href="#d" x="1059.8" y="699.3"/>
<use href="#d" x="1126.2" y="541.1"/>
<use href="#d" x="1152.6" y="614.4"/>
<use href="#d" x="1051.6" y="724.5"/>
<use href="#d" x="1127.2" y="746.5"/>
<use href="#d" x="1027.5" y="527.7"/>
<use href="#d" x="1049.4" y="592.3"/>
<use href="#d" x="1062.4" y="724.3"/>
<use href="#d" x="1120.2" y="732.4"/>
<use href="#d" x="1080.2" y="725.4"/>
<use href="#d" x="1126.8" y="756.7"/>
<use href="#d" x="940.8" y="707.2"/>
<use href="#d" x="1107.1" y="646.6"/>
<use href="#d" x="1139.1" y="567.0"/>
<use href="#d" x="997.2" y="535.9"/>
<use href="#d" x="956.2" y="687.7"/>
<use href="#d" x="1055.8" y="715.6"/>
<use href="#d" x="1109.0" y="596.5"/>
<use href="#d" x="1224.4" y="660.9"/>
<use href="#d" x="1089.0" y="576.6"/>
<use href="#d" x="988.8" y="699.2"/>
<use href="#d" x="1083.2" y="652.6"/>
<use href="#d" x="930.9" y="624.3"/>
<use href="#d" x="1153.0" y="593.8"/>
<use href="#d" x="1105.8" y="664.7"/>
<use href="#d" x="1033.3" y="770.8"/>
<use href="#d" x="1253.8" y="651.0"/>
<use href="#d" x="1078.2" y="718.9"/>
<use href="#d" x="1067.6" y="686.2"/>
<use href="#d" x="1005.1" y="574.1"/>
<use href="#d" x="963.9" y="583.8"/>
<use href="#d" x="1008.8" y="540.2"/>
<use href="#d" x="965.1" y="700.1"/>
<use href="#d" x="956.9" y="695.0"/>
<use href="#d" x="1114.3" y="767.4"/>
<use href="#d" x="1008.0" y="734.5"/>
<use href="#d" x="1128.4" y="565.1"/>
<use href="#d" x="1163.5" y="637.6"/>
<use href="#d" x="1132.2" y="715.3"/>
<use href="#d" x="1186.6" y="635.7"/>
<use href="#d" x="1089.4" y="650.7"/>
<use href="#d" x="1129.0" y="614.0"/>
<use href="#d" x="1047.5" y="637.4"/>
<use href="#d" x="1084.8" y="815.7"/>
<use href="#d" x="1083.9" y="737.5"/>
<use href="#d" x="929.7" y="562.8"/>
<use href="#d" x="933.0" y="677.6"/>
<use href="#d" x="1194.7" y="561.5"/>
<use href="#d" x="1045.1" y="628.4"/>
<use href="#d" x="1066.9" y="691.6"/>
<use href="#d" x="1194.2" y="592.5"/>
<use href="#d" x="1151.5" y="669.3"/>
<use href="#d" x="1055.6" y="629.6"/>
<use href="#d" x="1119.9" y="627.7"/>
<use href="#d" x="1202.5" y="670.0"/>
<use href="#d" x="992.0" y="617.3"/>
<use href="#d" x="1188.6" y="660.5"/>
<use href="#d" x="1142.4" y="748.8"/>
<use href="#d" x="1071.7" y="706.7"/>
<use href="#d" x="1192.7" y="642.7"/>
<use href="#d" x="1047.0" y="711.2"/>
<use href="#d" x="1035.7" y="563.4"/>
<use href="#d" x="979.7" y="679.8"/>
<use href="#d" x="1060.5" y="604.9"/>
<use href="#d" x="1163.6" y="629.0"/>
<use href="#d" x="1162.7" y="627.1"/>
<use href="#d" x="1006.2" y="732.4"/>
<use href="#d" x="1032.4" y="601.6"/>
<use href="#d" x="1055.2" y="614.9"/>
<use href="#d" x="979.3" y="646.1"/>
<use href="#d" x="1144.7" y="580.7"/>
<use href="#d" x="1071.9" y="754.1"/>
<use href="#d" x="1179.6" y="617.7"/>
<use href="#d" x="1104.6" y="648.4"/>
<use href="#d" x="1095.0" y="661.4"/>
<use href="#d" x="1087.5" y="718.6"/>
<use href="#d" x="1033.5" y="620.9"/>
<use href="#d" x="1021.5" y="701.9"/>
<use href="#d" x="1168.4" y="639.9"/>
<use href="#d" x="1203.3" y="636.7"/>
<use href="#d" x="1076.3" y="589.7"/>
<use href="#d" x="1124.9" y="591.2"/>
<use href="#d" x="1086.4" y="761.3"/>
<use href="#d" x="993.1" y="679.4"/>
<use href="#d" x="1156.7" y="672.4"/>
<use href="#d" x="1083.1" y="678.5"/>
<use href="#d" x="1211.1" y="647.8"/>
<use href="#d" x="1199.4" y="680.2"/>
<use href="#d" x="1041.4" y="625.3"/>
<use href="#d" x="1027.6" y="671.2"/>
<use href="#d" x="1088.3" y="759.4"/>
<use href="#d" x="1084.4" y="660.2"/>
<use href="#d" x="1118.2" y="585.8"/>
<use href="#d" x="1161.6" y="707.9"/>
<use href="#d" x="1042.7" y="651.9"/>
<use href="#d" x="983.7" y="728.7"/>
<use href="#d" x="1061.9" y="621.5"/>
<use href="#d" x="1025.8" y="658.6"/>
<use href="#d" x="1196.2" y="721.4"/>
<use href="#d" x="1018.3" y="526.6"/>
<use href="#d" x="1020.7" y="594.7"/>
<use href="#d" x="1057.0" y="758.6"/>
<use href="#d" x="931.3" y="668.7"/>
<use href="#d" x="1091.5" y="772.9"/>
<use href="#d" x="1014.7" y="565.2"/>
<use href="#d" x="993.5" y="615.8"/>
<use href="#d" x="1134.8" y="776.4"/>
<use href="#d" x="940.6" y="676.9"/>
<use href="#d" x="1060.4" y="556.9"/>
<use href="#d" x="1036.9" y="678.4"/>
<use href="#d" x="1138.6" y="722.2"/>
<use href="#d" x="1190.5" y="667.7"/>
<use href="#d" x="1159.8" y="574.3"/>
<use href="#d" x="1045.2" y="562.2"/>
<use href="#d" x="963.0" y="655.3"/>
<use href="#d" x="1154.5" y="655.5"/>
<use href="#d" x="1129.5" y="666.8"/>
<use href="#d" x="1018.6" y="701.4"/>
<use href="#d" x="1044.2" y="660.4"/>
<use href="#d" x="1097.8" y="624.5"/>
<use href="#d" x="1125.8" y="717.9"/>
<use href="#d" x="1122.2" y="596.9"/>
<use href="#d" x="1065.7" y="600.8"/>
<use href="#d" x="1036.5" y="627.4"/>
<use href="#d" x="1117.4" y="735.3"/>
<use href="#d" x="1008.2" y="731.1"/>
<use href="#d" x="990.0" y="691.8"/>
<use href="#d" x="1148.7" y="689.3"/>
<use href="#d" x="1175.0" y="587.9"/>
<use href="#d" x="1048.0" y="723.7"/>
<use href="#d" x="1069.8" y="694.5"/>
<use href="#d" x="1168.8" y="694.3"/>
<use href="#d" x="1036.7" y="551.7"/>
<use href="#d" x="1038.9" y="594.6"/>
<use href="#d" x="1130.3" y="673.4"/>
<use href="#d" x="1094.4" y="685.3"/>
<use href="#d" x="986.8" y="690.5"/>
<use href="#d" x="1030.2" y="606.4"/>
<use href="#d" x="1048.8" y="793.5"/>
<use href="#d" x="914.8" y="604.7"/>
<use href="#d" x="989.0" y="688.9"/>
<use href="#d" x="1011.6" y="593.7"/>
<use href="#d" x="980.2" y="650.1"/>
<use href="#d" x="1108.8" y="581.5"/>
<use href="#d" x="1202.9" y="660.3"/>
<use href="#d" x="964.5" y="605.8"/>
<use href="#d" x="1228.9" y="632.8"/>
<use href="#d" x="1141.6" y="760.5"/>
<use href="#d" x="984.7" y="682.1"/>
<use href="#d" x="1127.6" y="735.6"/>
<use href="#d" x="1069.3" y="656.1"/>
<use href="#d" x="1172.6" y="682.5"/>
<use href="#d" x="1004.7" y="595.7"/>
<use href="#d" x="1028.8" y="670.0"/>
<use href="#d" x="959.3" y="599.8"/>
<use href="#d" x="1135.4" y="760.2"/>
<use href="#d" x="1169.1" y="626.0"/>
<use href="#d" x="992.9" y="608.5"/>
<use href="#d" x="1051.4" y="716.2"/>
<use href="#d" x="1109.3" y="590.3"/>
<use href="#d" x="1065.5" y="597.2"/>
<use href="#d" x="1068.3" y="564.7"/>
<use href="#d" x="952.8" y="701.9"/>
<use href="#d" x="1015.7" y="669.9"/>
<use href="#d" x="1087.7" y="641.6"/>
<use href="#d" x="1187.7" y="624.2"/>
<use href="#d" x="917.3" y="710.8"/>
<use href="#d" x="1111.4" y="614.5"/>
<use href="#d" x="977.8" y="570.3"/>
<use href="#d" x="1091.8" y="585.7"/>
<use href="#d" x="963.0" y="693.3"/>
<use href="#d" x="951.2" y="618.8"/>
<use href="#d" x="1186.2" y="710.6"/>
<use href="#d" x="1046.2" y="762.5"/>
<use href="#d" x="1062.6" y="670.3"/>
<use href="#d" x="1192.1" y="680.9"/>
<use href="#d" x="1095.1" y="656.5"/>
<use href="#d" x="1152.8" y="735.6"/>
<use href="#d" x="1008.2" y="652.2"/>
<use href="#d" x="1057.3" y="666.9"/>
<use href="#d" x="1136.8" y="700.8"/>
<use href="#d" x="1114.4" y="743.8"/>
<use href="#d" x="1066.7" y="707.1"/>
<use href="#d" x="1203.3" y="702.4"/>
<use href="#d" x="1105.9" y="714.7"/>
<use href="#d" x="1109.7" y="677.2"/>
<use href="#d" x="1164.4" y="695.2"/>
<use href="#d" x="1116.7" y="563.1"/>
<use href="#d" x="981.5" y="637.8"/>
<use href="#d" x="1207.7" y="587.9"/>
<use href="#d" x="1101.9" y="692.3"/>
<use href="#d" x="1016.9" y="576.1"/>
<use href="#d" x="1137.8" y="669.9"/>
<use href="#d" x="1007.3" y="785.5"/>
<use href="#d" x="1014.4" y="594.9"/>
<use href="#d" x="1190.9" y="521.5"/>
<use href="#d" x="1130.3" y="706.6"/>
<use href="#d" x="1029.2" y="606.2"/>
<use href="#d" x="966.9" y="732.0"/>
<use href="#d" x="1040.7" y="600.1"/>
<use href="#d" x="1055.7" y="725.3"/>
<use href="#d" x="1031.1" y="717.7"/>
<use href="#d" x="997.1" y="777.2"/>
<use href="#d" x="1010.8" y="699.4"/>
<use href="#d" x="1025.6" y="713.7"/>
<use href="#d" x="1073.2" y="797.0"/>
<use href="#d" x="1088.2" y="706.3"/>
<use href="#d" x="1167.6" y="610.6"/>
<use href="#d" x="970.6" y="628.9"/>
<use href="#d" x="1045.5" y="749.5"/>
<use href="#d" x="1087.7" y="655.7"/>
<use href="#d" x="1114.5" y="639.9"/>
<use href="#d" x="1034.7" y="610.7"/>
<use href="#d" x="1067.0" y="594.8"/>
<use href="#d" x="1146.4" y="625.1"/>
<use href="#d" x="1133.8" y="752.2"/>
<use href="#d" x="1029.1" y="632.8"/>
<use href="#d" x="1087.6" y="617.5"/>
<use href="#d" x="1180.9" y="676.3"/>
<use href="#d" x="967.2" y="648.8"/>
<use href="#d" x="1069.8" y="798.8"/>
<use href="#d" x="937.9" y="644.3"/>
<use href="#d" x="1122.6" y="537.8"/>
<use href="#d" x="977.9" y="782.3"/>
<use href="#d" x="1123.4" y="775.4"/>
<use href="#d" x="1103.1" y="605.3"/>
<use href="#d" x="1091.3" y="705.4"/>
<use href="#d" x="993.1" y="607.8"/>
<use href="#d" x="1186.1" y="541.8"/>
<use href="#d" x="1008.0" y="606.4"/>
<use href="#d" x="984.2" y="655.2"/>
<use href="#d" x="1084.7" y="740.2"/>
<use href="#d" x="1193.7" y="646.6"/>
<use href="#d" x="1058.3" y="770.4"/>
<use href="#d" x="1036.2" y="700.8"/>
<use href="#d" x="975.1" y="671.1"/>
<use href="#d" x="1148.5" y="686.6"/>
<use href="#d" x="1001.6" y="741.3"/>
<use href="#d" x="1088.8" y="577.5"/>
<use href="#d" x="1099.6" y="760.4"/>
<use href="#d" x="1204.2" y="669.8"/>
<use href="#d" x="1139.6" y="537.4"/>
<use href="#d" x="959.7" y="681.8"/>
<use href="#d" x="1000.7" y="599.9"/>
<use href="#d" x="965.9" y="579.5"/>
<use href="#d" x="1184.9" y="744.2"/>
<use href="#d" x="970.9" y="615.1"/>
<use href="#d" x="1070.9" y="722.0"/>
<use href="#d" x="1168.4" y="592.2"/>
<use href="#d" x="1074.5" y="679.0"/>
<use href="#d" x="1003.3" y="734.5"/>
<use href="#d" x="1026.1" y="639.0"/>
<use href="#d" x="950.9" y="631.8"/>
<use href="#d" x="1174.7" y="630.6"/>
<use href="#d" x="1066.3" y="665.8"/>
<use href="#d" x="1140.2" y="596.8"/>
<use href="#d" x="992.7" y="731.2"/>
<use href="#d" x="1002.8" y="543.2"/>
<use href="#d" x="1140.9" y="604.0"/>
<use href="#d" x="944.0" y="627.1"/>
<use href="#d" x="1083.2" y="641.1"/>
<use href="#d" x="1042.4" y="602.0"/>
<use href="#d" x="1125.6" y="761.7"/>
<use href="#d" x="992.3" y="606.6"/>
<use href="#d" x="1089.8" y="664.5"/>
<use href="#d" x="1077.5" y="576.4"/>
<use href="#d" x="1097.4" y="645.4"/>
<use href="#d" x="1105.5" y="642.1"/>
<use href="#d" x="1007.9" y="667.4"/>
<use href="#d" x="1086.4" y="769.1"/>
<use href="#d" x="1168.9" y="611.0"/>
<use href="#d" x="1160.0" y="720.0"/>
<use href="#d" x="1162.6" y="714.4"/>
<use href="#d" x="1012.5" y="556.9"/>
<use href="#d" x="1065.2" y="636.7"/>
<use href="#d" x="1003.0" y="739.3"/>
<use href="#d" x="976.5" y="705.2"/>
<use href="#d" x="971.1" y="695.2"/>
<use href="#d" x="1179.6" y="768.7"/>
<use href="#d" x="1065.3" y="688.6"/>
<use href="#d" x="1099.8" y="574.4"/>
<use href="#d" x="1090.9" y="581.6"/>
<use href="#d" x="1138.8" y="687.3"/>
<use href="#d" x="1071.8" y="550.0"/>
<use href="#d" x="1124.1" y="684.8"/>
<use href="#d" x="1034.2" y="602.7"/>
<use href="#d" x="1097.0" y="683.6"/>
<use href="#d" x="1097.2" y="679.4"/>
<use href="#d" x="1088.7" y="698.5"/>
<use href="#d" x="1006.3" y="614.5"/>
<use href="#d" x="973.7" y="645.9"/>
<use href="#d" x="1024.9" y="620.7"/>
<use href="#d" x="1090.8" y="587.6"/>
<use href="#d" x="1063.1" y="630.6"/>
<use href="#d" x="1098.2" y="555.4"/>
<use href="#d" x="979.4" y="587.8"/>
<use href="#d" x="1206.3" y="711.7"/>
<use href="#d" x="1162.4" y="696.7"/>
<use href="#d" x="983.8" y="703.7"/>
<use href="#d" x="1037.5" y="625.0"/>
<use href="#d" x="1083.9" y="677.2"/>
<use href="#d" x="1085.0" y="540.5"/>
<use href="#d" x="1027.6" y="578.9"/>
<use href="#d" x="1184.3" y="727.7"/>
<use href="#d" x="1134.6" y="504.4"/>
<use href="#d" x="1150.2" y="620.5"/>
<use href="#d" x="956.3" y="642.4"/>
<use href="#d" x="1095.4" y="653.8"/>
<use href="#d" x="1043.6" y="681.4"/>
<use href="#d" x="1063.6" y="609.9"/>
<use href="#d" x="1191.1" y="556.6"/>
<use href="#d" x="1004.1" y="670.7"/>
<use href="#d" x="1189.9" y="580.2"/>
<use href="#d" x="1022.2" y="791.1"/>
<use href="#d" x="1140.8" y="721.5"/>
<use href="#d" x="1011.1" y="736.1"/>
<use href="#d" x="1022.9" y="645.2"/>
<use href="#d" x="1101.4" y="681.2"/>
<use href="#d" x="993.4" y="607.5"/>
<use href="#d" x="1206.1" y="696.0"/>
<use href="#d" x="1196.5" y="619.2"/>
<use href="#d" x="1160.9" y="642.4"/>
<use href="#d" x="1021.9" y="650.6"/>
<use href="#d" x="1103.8" y="718.6"/>
<use href="#d" x="955.5" y="765.6"/>
<use href="#d" x="986.8" y="631.5"/>
<use href="#d" x="1045.1" y="554.1"/>
<use href="#d" x="1032.5" y="688.0"/>
<use href="#d" x="1037.5" y="644.9"/>
<use href="#d" x="1117.5" y="813.4"/>
<use href="#d" x="1097.1" y="749.1"/>
<use href="#d" x="1205.3" y="631.3"/>
<use href="#d" x="1190.7" y="622.5"/>
<use href="#d" x="978.4" y="703.9"/>
<use href="#d" x="1099.5" y="748.8"/>
<use href="#d" x="980.0" y="689.8"/>
<use href="#d" x="943.8" y="701.6"/>
<use href="#d" x="969.0" y="631.2"/>
<use href="#d" x="958.6" y="607.6"/>
<use href="#d" x="1157.9" y="763.2"/>
<use href="#d" x="1140.7" y="636.8"/>
<use href="#d" x="1187.3" y="699.5"/>
<use href="#d" x="1017.7" y="673.7"/>
<use href="#d" x="1076.1" y="721.6"/>
<use href="#d" x="1072.2" y="628.1"/>
<use href="#d" x="1067.9" y="570.0"/>
<use href="#d" x="1059.1" y="730.6"/>
<use href="#d" x="1161.5" y="683.4"/>
<use href="#d" x="1126.5" y="741.5"/>
<use href="#d" x="1209.7" y="609.5"/>
<use href="#d" x="922.6" y="701.7"/>
<use href="#d" x="1086.0" y="568.6"/>
<use href="#d" x="989.2" y="564.7"/>
<use href="#d" x="1104.5" y="784.1"/>
<use href="#d" x="1059.7" y="634.4"/>
<use href="#d" x="934.9" y="610.7"/>
<use href="#d" x="1075.1" y="693.8"/>
<use href="#d" x="1167.8" y="568.3"/>
<use href="#d" x="1095.4" y="615.8"/>
<use href="#d" x="1082.2" y="610.3"/>
<use href="#d" x="1010.8" y="628.2"/>
<use href="#d" x="1032.3" y="667.9"/>
<use href="#d" x="1143.2" y="740.3"/>
<use href="#d" x="1068.5" y="660.0"/>
<use href="#d" x="1167.3" y="714.5"/>
<use href="#d" x="1156.2" y="714.5"/>
<use href="#d" x="1141.5" y="599.3"/>
<use href="#d" x="1098.0" y="582.9"/>
<use href="#d" x="1111.6" y="668.7"/>
<use href="#d" x="1122.8" y="753.1"/>
<use href="#d" x="999.2" y="694.0"/>
<use href="#d" x="1007.7" y="590.1"/>
<use href="#d" x="1077.9" y="785.8"/>
<use href="#d" x="1097.3" y="583.9"/>
<use href="#d" x="1018.9" y="602.2"/>
<use href="#d" x="1109.7" y="718.3"/>
<use href="#d" x="966.0" y="643.9"/>
<use href="#d" x="937.8" y="559.2"/>
<use href="#d" x="1153.6" y="684.1"/>
<use href="#d" x="1173.9" y="622.2"/>
<use href="#d" x="1077.3" y="820.0"/>
<use href="#d" x="1110.5" y="677.6"/>
<use href="#d" x="1158.3" y="611.7"/>
<use href="#d" x="1127.4" y="793.6"/>
<use href="#d" x="1094.8" y="697.7"/>
<use href="#d" x="1042.3" y="661.4"/>
<use href="#d" x="1147.2" y="768.1"/>
<use href="#d" x="1005.2" y="616.8"/>
<use href="#d" x="977.8" y="676.4"/>
<use href="#d" x="1209.8" y="602.8"/>
<use href="#d" x="1053.2" y="535.9"/>
<use href="#d" x="1156.1" y="631.9"/>
<use href="#d" x="985.7" y="630.8"/>
<use href="#d" x="1101.1" y="756.5"/>
<use href="#d" x="1030.7" y="711.2"/>
<use href="#d" x="987.9" y="517.7"/>
<use href="#d" x="1165.3" y="654.4"/>
<use href="#d" x="1078.6" y="779.5"/>
<use href="#d" x="1135.7" y="640.6"/>
<use href="#d" x="1130.9" y="649.8"/>
<use href="#d" x="950.8" y="681.1"/>
<use href="#d" x="976.3" y="724.0"/>
<use href="#d" x="1067.9" y="626.9"/>
<use href="#d" x="1068.7" y="648.3"/>
<use href="#d" x="1007.3" y="808.1"/>
<use href="#d" x="1058.3" y="637.9"/>
<use href="#d" x="1142.2" y="612.9"/>
<use href="#d" x="1169.3" y="670.3"/>
<use href="#d" x="1103.0" y="702.7"/>
<use href="#d" x="1067.4" y="733.6"/>
<use href="#d" x="969.1" y="575.0"/>
<use href="#d" x="1050.5" y="562.8"/>
<use href="#d" x="1019.9" y="507.8"/>
<use href="#d" x="1219.5" y="669.4"/>
<use href="#d" x="1114.1" y="583.7"/>
<use href="#d" x="1122.7" y="628.1"/>
<use href="#d" x="1145.9" y="589.4"/>
<use href="#d" x="1106.3" y="722.7"/>
<use href="#d" x="1029.9" y="702.8"/>
<use href="#d" x="1135.9" y="732.4"/>
<use href="#d" x="1113.1" y="640.2"/>
<use href="#d" x="1039.7" y="654.3"/>
<use href="#d" x="1119.5" y="582.9"/>
<use href="#d" x="1160.8" y="656.9"/>
<use href="#d" x="1041.9" y="563.7"/>
<use href="#d" x="1175.3" y="703.9"/>
<use href="#d" x="1006.8" y="760.1"/>
<use href="#d" x="1105.3" y="529.5"/>
<use href="#d" x="999.2" y="640.5"/>
<use href="#d" x="1145.5" y="721.8"/>
<use href="#d" x="1126.1" y="582.2"/>
<use href="#d" x="1128.3" y="587.8"/>
<use href="#d" x="1137.7" y="550.4"/>
<use href="#d" x="1094.7" y="601.3"/>
<use href="#d" x="1028.0" y="666.8"/>
<use href="#d" x="982.4" y="746.9"/>
<use href="#d" x="1137.4" y="714.2"/>
<use href="#d" x="980.9" y="717.8"/>
<use href="#d" x="1011.0" y="683.0"/>
<use href="#d" x="1136.9" y="676.7"/>
<use href="#d" x="983.8" y="679.9"/>
<use href="#d" x="1029.4" y="765.5"/>
<use href="#d" x="1145.5" y="692.0"/>
<use href="#d" x="1173.8" y="614.4"/>
<use href="#d" x="1000.8" y="609.5"/>
<use href="#d" x="1093.8" y="771.8"/>
<use href="#d" x="1103.1" y="524.8"/>
<use href="#d" x="1021.2" y="669.7"/>
<use href="#d" x="1065.0" y="699.7"/>
<use href="#d" x="1150.9" y="748.6"/>
<use href="#d" x="1209.7" y="614.8"/>
<use href="#d" x="1049.4" y="604.7"/>
<use href="#d" x="1100.8" y="685.5"/>
<use href="#d" x="1038.3" y="553.3"/>
<use href="#d" x="1001.6" y="600.8"/>
<use href="#d" x="1028.7" y="561.9"/>
<use href="#d" x="1113.8" y="654.2"/>
<use href="#d" x="1070.6" y="672.2"/>
<use href="#d" x="1101.3" y="684.5"/>
<use href="#d" x="1102.7" y="692.4"/>
<use href="#d" x="983.2" y="610.2"/>
<use href="#d" x="1086.8" y="753.1"/>
<use href="#d" x="1127.6" y="770.5"/>
<use href="#d" x="1049.1" y="597.2"/>
<use href="#d" x="1112.9" y="574.4"/>
<use href="#d" x="1005.3" y="691.9"/>
<use href="#d" x="988.4" y="719.6"/>
<use href="#d" x="1165.1" y="726.9"/>
<use href="#d" x="1053.1" y="753.6"/>
<use href="#d" x="1020.1" y="642.2"/>
<use href="#d" x="1016.2" y="692.2"/>
<use href="#d" x="965.5" y="737.6"/>
<use href="#d" x="1068.7" y="640.4"/>
<use href="#d" x="1059.5" y="760.6"/>
<use href="#d" x="1126.8" y="687.5"/>
<use href="#d" x="974.1" y="699.3"/>
<use href="#d" x="1033.0" y="623.5"/>
<use href="#d" x="1185.0" y="609.8"/>
<use href="#d" x="978.3" y="638.9"/>
<use href="#d" x="1110.6" y="586.8"/>
<use href="#d" x="1114.7" y="621.0"/>
<use href="#d" x="1146.4" y="776.5"/>
<use href="#d" x="1085.6" y="659.7"/>
<use href="#d" x="956.6" y="709.4"/>
<use href="#d" x="1017.9" y="549.0"/>
<use href="#d" x="1029.3" y="657.4"/>
<use href="#d" x="1027.2" y="673.1"/>
<use href="#d" x="972.9" y="610.4"/>
<use href="#d" x="1135.1" y="723.0"/>
<use href="#d" x="967.5" y="650.0"/>
<use href="#d" x="907.8" y="625.0"/>
<use href="#d" x="1028.1" y="572.7"/>
<use href="#d" x="941.0" y="632.9"/>
<use href="#d" x="1188.4" y="617.7"/>
<use href="#d" x="1106.8" y="571.7"/>
<use href="#d" x="1072.0" y="649.8"/>
<use href="#d" x="979.4" y="603.7"/>
<use href="#d" x="1187.5" y="710.1"/>
<use href="#d" x="1015.1" y="700.0"/>
<use href="#d" x="1152.3" y="747.1"/>
<use href="#d" x="1088.5" y="747.4"/>
<use href="#d" x="1030.0" y="750.8"/>
<use href="#d" x="1005.1" y="665.3"/>
<use href="#d" x="1030.0" y="708.6"/>
<use href="#d" x="1116.0" y="731.6"/>
<use href="#d" x="956.3" y="644.2"/>
<use href="#d" x="1118.9" y="620.0"/>
<use href="#d" x="979.9" y="665.8"/>
<use href="#d" x="1065.4" y="662.2"/>
<use href="#d" x="942.8" y="699.0"/>
<use href="#d" x="1028.7" y="686.6"/>
<use href="#d" x="1081.6" y="737.9"/>
<use href="#d" x="1043.3" y="576.7"/>
<use href="#d" x="1147.9" y="689.0"/>
<use href="#d" x="1189.7" y="593.7"/>
<use href="#d" x="1153.8" y="647.5"/>
<use href="#d" x="1045.3" y="562.8"/>
<use href="#d" x="944.2" y="532.6"/>
<use href="#d" x="1222.6" y="662.8"/>
<use href="#d" x="1187.0" y="642.1"/>
<use href="#d" x="1025.9" y="626.6"/>
<use href="#d" x="1175.3" y="613.6"/>
<use href="#d" x="970.8" y="599.8"/>
<use href="#d" x="1074.7" y="678.0"/>
<use href="#d" x="1117.7" y="738.9"/>
<use href="#d" x="1101.8" y="577.1"/>
<use href="#d" x="1201.3" y="705.8"/>
<use href="#d" x="1147.7" y="656.1"/>
<use href="#d" x="1220.3" y="641.0"/>
<use href="#d" x="1053.9" y="721.8"/>
<use href="#d" x="1059.5" y="753.8"/>
<use href="#d" x="1123.6" y="708.6"/>
<use href="#d" x="1004.1" y="652.6"/>
<use href="#d" x="992.6" y="590.7"/>
<use href="#d" x="967.6" y="662.6"/>
<use href="#d" x="1133.6" y="725.1"/>
<use href="#d" x="1103.7" y="750.7"/>
<use href="#d" x="1184.1" y="678.2"/>
<use href="#d" x="1150.4" y="775.0"/>
<use href="#d" x="1077.3" y="749.3"/>
<use href="#d" x="945.1" y="671.5"/>
<use href="#d" x="939.6" y="715.0"/>
<use href="#d" x="1002.9" y="570.5"/>
<use href="#d" x="1150.1" y="664.3"/>
<use href="#d" x="1044.6" y="530.8"/>
<use href="#d" x="990.6" y="630.0"/>
<use href="#d" x="1189.6" y="555.9"/>
<use href="#d" x="956.7" y="525.7"/>
<use href="#d" x="1067.1" y="756.3"/>
<use href="#d" x="937.4" y="721.0"/>
<use href="#d" x="1133.0" y="655.8"/>
<use href="#d" x="1152.2" y="717.4"/>
<use href="#d" x="1009.2" y="704.0"/>
<use href="#d" x="1110.2" y="656.9"/>
<use href="#d" x="1156.2" y="733.9"/>
<use href="#d" x="1165.8" y="751.2"/>
<use href="#d" x="962.1" y="616.0"/>
<use href="#d" x="1086.3" y="728.0"/>
<use href="#d" x="1134.7" y="759.2"/>
<use href="#d" x="1040.1" y="697.2"/>
<use href="#d" x="1186.7" y="611.1"/>
<use href="#d" x="1142.0" y="641.9"/>
<use href="#d" x="1210.3" y="708.0"/>
<use href="#d" x="1177.7" y="608.3"/>
<use href="#d" x="1024.3" y="680.2"/>
<use href="#d" x="1166.6" y="700.9"/>
<use href="#d" x="1073.6" y="781.5"/>
<use href="#d" x="1210.7" y="623.1"/>
<use href="#d" x="939.0" y="736.8"/>
<use href="#d" x="1178.7" y="557.1"/>
<use href="#d" x="1101.8" y="655.8"/>
<use href="#d" x="1150.8" y="570.5"/>
<use href="#d" x="1129.0" y="662.0"/>
<use href="#d" x="985.0" y="555.8"/>
<use href="#d" x="1001.1" y="757.4"/>
<use href="#d" x="1153.0" y="608.8"/>
<use href="#d" x="1052.9" y="712.6"/>
<use href="#d" x="1135.4" y="783.7"/>
<use href="#d" x="947.3" y="594.6"/>
<use href="#d" x="1108.3" y="776.2"/>
<use href="#d" x="1050.0" y="663.0"/>
<use href="#d" x="1172.3" y="681.2"/>
<use href="#d" x="936.7" y="589.2"/>
<use href="#d" x="1076.2" y="777.8"/>
<use href="#d" x="1114.0" y="676.5"/>
<use href="#d" x="929.4" y="585.6"/>
<use href="#d" x="1140.3" y="652.2"/>
<use href="#d" x="1036.7" y="662.3"/>
<use href="#d" x="1104.4" y="656.5"/>
<use href="#d" x="1117.6" y="711.5"/>
<use href="#d" x="1066.2" y="574.6"/>
<use href="#d" x="1118.8" y="682.4"/>
<use href="#d" x="975.8" y="575.0"/>
<use href="#d" x="1095.7" y="562.9"/>
<use href="#d" x="1011.4" y="688.1"/>
<use href="#d" x="1045.8" y="726.2"/>
<use href="#d" x="954.3" y="645.2"/>
<use href="#d" x="1058.1" y="827.4"/>
<use href="#d" x="1005.2" y="710.7"/>
<use href="#d" x="1005.7" y="583.1"/>
<use href="#d" x="1035.3" y="674.7"/>
<use href="#d" x="1086.7" y="655.3"/>
<use href="#d" x="1182.9" y="594.9"/>
<use href="#d" x="989.2" y="686.6"/>
<use href="#d" x="1117.8" y="577.2"/>
<use href="#d" x="1010.4" y="681.4"/>
<use href="#d" x="1166.1" y="591.7"/>
<use href="#d" x="1169.0" y="708.5"/>
<use href="#d" x="1049.6" y="788.1"/>
<use href="#d" x="1017.6" y="610.3"/>
<use href="#d" x="1113.8" y="617.9"/>
<use href="#d" x="1053.2" y="781.2"/>
<use href="#d" x="1142.9" y="572.9"/>
<use href="#d" x="1192.9" y="606.3"/>
<use href="#d" x="1153.9" y="542.2"/>
<use href="#d" x="1093.8" y="681.2"/>
<use href="#d" x="1040.2" y="658.8"/>
<use href="#d" x="1009.0" y="717.4"/>
<use href="#d" x="915.7" y="659.8"/>
<use href="#d" x="975.5" y="699.0"/>
<use href="#d" x="964.7" y="669.6"/>
<use href="#d" x="979.8" y="610.6"/>
<use href="#d" x="1005.6" y="597.6"/>
<use href="#d" x="1088.5" y="713.4"/>
<use href="#d" x="1145.8" y="639.4"/>
<use href="#d" x="1149.2" y="618.7"/>
<use href="#d" x="1067.4" y="669.3"/>
<use href="#d" x="1060.3" y="680.5"/>
<use href="#d" x="1111.6" y="570.4"/>
<use href="#d" x="971.8" y="601.4"/>
<use href="#d" x="959.0" y="620.1"/>
<use href="#d" x="990.6" y="567.0"/>
<use href="#d" x="954.2" y="687.6"/>
<use href="#d" x="1010.0" y="625.3"/>
<use href="#d" x="1117.5" y="664.1"/>
<use href="#d" x="1018.8" y="499.4"/>
<use href="#d" x="994.3" y="602.7"/>
<use href="#d" x="1059.1" y="659.7"/>
<use href="#d" x="1024.4" y="645.2"/>
<use href="#d" x="1137.0" y="586.3"/>
<use href="#d" x="1089.3" y="746.3"/>
<use href="#d" x="1022.9" y="651.9"/>
<use href="#d" x="1077.0" y="622.2"/>
<use href="#d" x="1052.7" y="652.0"/>
<use href="#d" x="1112.3" y="673.5"/>
<use href="#d" x="989.9" y="688.3"/>
<use href="#d" x="1165.2" y="693.3"/>
<use href="#d" x="1134.5" y="701.4"/>
<use href="#d" x="1057.2" y="665.5"/>
<use href="#d" x="1109.2" y="625.0"/>
<use href="#d" x="930.6" y="631.9"/>
<use href="#d" x="1221.1" y="658.5"/>
<use href="#d" x="1113.3" y="724.5"/>
<use href="#d" x="1008.2" y="644.6"/>
<use href="#d" x="1126.1" y="686.2"/>
<use href="#d" x="1010.9" y="694.8"/>
<use href="#d" x="1084.3" y="595.8"/>
<use href="#d" x="1209.8" y="665.0"/>
<use href="#d" x="959.0" y="751.5"/>
<use href="#d" x="1002.5" y="739.3"/>
<use href="#d" x="1103.1" y="715.4"/>
<use href="#d" x="1081.8" y="605.8"/>
<use href="#d" x="1141.1" y="691.7"/>
<use href="#d" x="1178.1" y="676.7"/>
<use href="#d" x="983.5" y="616.0"/>
<use href="#d" x="1175.0" y="583.6"/>
<use href="#d" x="1078.9" y="584.4"/>
<use href="#d" x="958.2" y="671.1"/>
<use href="#d" x="1104.9" y="685.9"/>
<use href="#d" x="1173.3" y="686.6"/>
<use href="#d" x="1107.9" y="700.1"/>
<use href="#d" x="1200.8" y="558.5"/>
<use href="#d" x="1229.8" y="661.5"/>
<use href="#d" x="1100.2" y="627.6"/>
<use href="#d" x="938.8" y="674.2"/>
<use href="#d" x="1071.4" y="605.7"/>
<use href="#d" x="1188.4" y="754.0"/>
<use href="#d" x="1101.8" y="784.7"/>
<use href="#d" x="951.3" y="688.0"/>
<use href="#d" x="1073.0" y="649.9"/>
<use href="#d" x="1161.2" y="566.9"/>
<use href="#d" x="1134.6" y="596.2"/>
<use href="#d" x="1097.5" y="673.2"/>
<use href="#d" x="1037.3" y="694.4"/>
<use href="#d" x="1163.9" y="614.5"/>
<use href="#d" x="1100.1" y="567.5"/>
<use href="#d" x="1138.8" y="644.7"/>
<use href="#d" x="1019.9" y="710.0"/>
<use href="#d" x="960.2" y="521.1"/>
<use href="#d" x="938.6" y="659.1"/>
<use href="#d" x="1202.4" y="715.7"/>
<use href="#d" x="1068.3" y="751.2"/>
<use href="#d" x="975.8" y="608.9"/>
<use href="#d" x="1195.6" y="692.7"/>
<use href="#d" x="1080.0" y="668.6"/>
<use href="#d" x="1074.2" y="618.2"/>
<use href="#d" x="1181.8" y="655.6"/>
<use href="#d" x="1160.9" y="549.6"/>
<use href="#d" x="930.4" y="700.4"/>
<use href="#d" x="1141.3" y="691.9"/>
<use href="#d" x="1022.3" y="683.2"/>
<use href="#d" x="1142.0" y="606.2"/>
<use href="#d" x="1046.9" y="593.8"/>
<use href="#d" x="1017.9" y="666.4"/>
<use href="#d" x="1060.6" y="626.0"/>
<use href="#d" x="1078.3" y="693.4"/>
<use href="#d" x="1103.4" y="774.3"/>
<use href="#d" x="971.1" y="533.4"/>
<use href="#d" x="1071.8" y="646.5"/>
<use href="#d" x="1110.9" y="614.0"/>
<use href="#d" x="1035.3" y="661.6"/>
<use href="#d" x="1051.8" y="668.6"/>
<use href="#d" x="997.5" y="609.7"/>
<use href="#d" x="1158.4" y="587.7"/>
<use href="#d" x="1109.3" y="583.0"/>
<use href="#d" x="965.4" y="729.9"/>
<use href="#d" x="987.3" y="765.6"/>
<use href="#d" x="963.3" y="675.2"/>
<use href="#d" x="1035.0" y="618.1"/>
<use href="#d" x="1003.7" y="702.2"/>
<use href="#d" x="987.2" y="697.6"/>
<use href="#d" x="1113.5" y="740.3"/>
<use href="#d" x="1031.6" y="513.9"/>
<use href="#d" x="1079.1" y="720.1"/>
<use href="#d" x="981.9" y="625.2"/>
<use href="#d" x="1114.1" y="725.9"/>
<use href="#d" x="1042.6" y="736.0"/>
<use href="#d" x="964.6" y="743.3"/>
<use href="#d" x="1093.0" y="602.1"/>
<use href="#d" x="1058.2" y="694.1"/>
<use href="#d" x="1044.7" y="657.1"/>
<use href="#d" x="1111.2" y="720.7"/>
<use href="#d" x="1134.4" y="554.6"/>
<use href="#d" x="1044.9" y="664.0"/>
<use href="#d" x="1055.1" y="682.5"/>
<use href="#d" x="1065.5" y="641.6"/>
<use href="#d" x="1025.8" y="675.0"/>
<use href="#d" x="1122.0" y="764.1"/>
<use href="#d" x="1062.9" y="689.6"/>
<use href="#d" x="1067.8" y="609.1"/>
<use href="#d" x="1009.3" y="781.1"/>
<use href="#d" x="996.8" y="773.2"/>
<use href="#d" x="1163.7" y="600.3"/>
<use href="#d" x="957.3" y="662.8"/>
<use href="#d" x="985.3" y="621.1"/>
<use href="#d" x="1022.5" y="665.6"/>
<use href="#d" x="1077.8" y="615.2"/>
<use href="#d" x="1159.6" y="561.8"/>
<use href="#d" x="1166.9" y="558.6"/>
<use href="#d" x="1146.3" y="595.2"/>
<use href="#d" x="1143.6" y="653.0"/>
<use href="#d" x="1144.9" y="531.6"/>
<use href="#d" x="1065.4" y="781.4"/>
<use href="#d" x="975.7" y="632.2"/>
<use href="#d" x="1112.1" y="570.9"/>
<use href="#d" x="969.3" y="601.3"/>
<use href="#d" x="953.8" y="685.5"/>
<use href="#d" x="1126.6" y="587.7"/>
<use href="#d" x="1151.5" y="639.6"/>
<use href="#d" x="1079.4" y="690.6"/>
<use href="#d" x="1145.5" y="557.5"/>
<use href="#d" x="1016.5" y="512.0"/>
<use href="#d" x="1164.0" y="753.9"/>
<use href="#d" x="1075.5" y="647.6"/>
<use href="#d" x="1077.7" y="701.5"/>
<use href="#d" x="1127.9" y="724.2"/>
<use href="#d" x="1011.8" y="623.9"/>
<use href="#d" x="1093.6" y="587.6"/>
<use href="#d" x="995.2" y="621.9"/>
<use href="#d" x="1031.4" y="686.9"/>
<use href="#d" x="1154.1" y="664.9"/>
<use href="#d" x="1043.5" y="648.9"/>
<use href="#d" x="1068.5" y="638.7"/>
<use href="#d" x="1041.5" y="774.3"/>
<use href="#d" x="1105.0" y="540.3"/>
<use href="#d" x="1001.9" y="636.5"/>
<use href="#d" x="1141.0" y="738.5"/>
<use href="#d" x="1131.9" y="656.4"/>
<use href="#d" x="1111.9" y="601.3"/>
<use href="#d" x="1038.0" y="718.1"/>
<use href="#d" x="1031.0" y="665.7"/>
<use href="#d" x="984.0" y="730.2"/>
<use href="#d" x="1123.3" y="631.2"/>
<use href="#d" x="1156.3" y="701.0"/>
<use href="#d" x="1178.5" y="614.2"/>
<use href="#d" x="999.0" y="650.4"/>
<use href="#d" x="1043.6" y="545.1"/>
<use href="#d" x="1020.9" y="614.9"/>
<use href="#d" x="1126.4" y="611.0"/>
<use href="#d" x="998.6" y="683.0"/>
<use href="#d" x="1087.0" y="619.8"/>
<use href="#d" x="910.8" y="605.4"/>
<use href="#d" x="957.6" y="670.7"/>
<use href="#d" x="1162.9" y="640.6"/>
<use href="#d" x="991.4" y="601.9"/>
<use href="#d" x="1037.5" y="743.7"/>
<use href="#d" x="1083.0" y="647.4"/>
<use href="#d" x="983.9" y="684.3"/>
<use href="#d" x="1124.0" y="730.3"/>
<use href="#d" x="1004.4" y="586.1"/>
<use href="#d" x="1120.6" y="631.7"/>
<use href="#d" x="1145.2" y="596.2"/>
<use href="#d" x="1085.5" y="748.9"/>
<use href="#d" x="1039.9" y="656.8"/>
<use href="#d" x="1038.6" y="676.3"/>
<use href="#d" x="1072.7" y="699.6"/>
<use href="#d" x="1060.6" y="667.8"/>
<use href="#d" x="1217.6" y="683.6"/>
<use href="#d" x="1066.6" y="606.2"/>
<use href="#d" x="1024.3" y="641.7"/>
<use href="#d" x="1178.7" y="683.5"/>
<use href="#d" x="1125.9" y="565.5"/>
<use href="#d" x="1113.3" y="665.1"/>
<use href="#d" x="1165.7" y="676.9"/>
<use href="#d" x="1157.7" y="691.6"/>
<use href="#d" x="950.6" y="628.8"/>
<use href="#d" x="1074.5" y="660.2"/>
<use href="#d" x="1105.8" y="701.1"/>
<use href="#d" x="1038.7" y="626.4"/>
<use href="#d" x="947.6" y="660.3"/>
<use href="#d" x="1111.3" y="642.0"/>
<use href="#d" x="1148.0" y="605.7"/>
<use href="#d" x="1021.3" y="669.1"/>
<use href="#d" x="1030.1" y="701.7"/>
<use href="#d" x="1150.9" y="647.0"/>
<use href="#d" x="1067.1" y="642.4"/>
<use href="#d" x="1137.7" y="624.1"/>
<use href="#d" x="1039.6" y="561.0"/>
<use href="#d" x="1174.3" y="658.9"/>
<use href="#d" x="1046.1" y="657.8"/>
<use href="#d" x="1022.8" y="687.5"/>
<use href="#d" x="1192.5" y="652.0"/>
<use href="#d" x="1061.1" y="646.8"/>
<use href="#d" x="1120.7" y="538.2"/>
<use href="#d" x="1117.3" y="639.7"/>
<use href="#d" x="1097.8" y="509.3"/>
<use href="#d" x="1010.4" y="579.4"/>
<use href="#d" x="1177.6" y="643.2"/>
<use href="#d" x="1144.7" y="680.1"/>
<use href="#d" x="1021.8" y="721.3"/>
<use href="#d" x="1037.8" y="632.8"/>
<use href="#d" x="1151.4" y="573.8"/>
<use href="#d" x="1202.2" y="655.2"/>
<use href="#d" x="926.9" y="635.9"/>
<use href="#d" x="1001.5" y="583.0"/>
<use href="#d" x="1064.3" y="639.5"/>
<use href="#d" x="1026.8" y="598.8"/>
<use href="#d" x="1083.2" y="680.7"/>
<use href="#d" x="1011.8" y="576.8"/>
<use href="#d" x="1099.6" y="654.2"/>
<use href="#d" x="1117.6" y="618.5"/>
<use href="#d" x="1205.1" y="583.4"/>
<use href="#d" x="1071.5" y="709.0"/>
<use href="#d" x="1038.5" y="695.6"/>
<use href="#d" x="1040.6" y="607.6"/>
<use href="#d" x="1025.3" y="634.3"/>
<use href="#d" x="1073.8" y="642.5"/>
<use href="#d" x="1115.5" y="656.1"/>
<use href="#d" x="1125.3" y="579.6"/>
<use href="#d" x="1097.8" y="651.5"/>
<use href="#d" x="935.5" y="632.2"/>
<use href="#d" x="1079.5" y="608.3"/>
<use href="#d" x="1077.1" y="612.4"/>
<use href="#d" x="1088.1" y="627.8"/>
<use href="#d" x="1088.5" y="678.7"/>
<use href="#d" x="983.2" y="747.0"/>
<use href="#d" x="1020.0" y="700.6"/>
<use href="#d" x="1088.6" y="645.4"/>
<use href="#d" x="1098.2" y="590.2"/>
<use href="#d" x="1079.7" y="612.3"/>
<use href="#d" x="1137.0" y="639.2"/>
<use href="#d" x="1095.1" y="633.4"/>
<use href="#d" x="1095.0" y="600.2"/>
<use href="#d" x="1020.1" y="629.7"/>
<use href="#d" x="1026.0" y="561.5"/>
<use href="#d" x="1121.6" y="568.5"/>
<use href="#d" x="1119.9" y="605.0"/>
<use href="#d" x="1064.4" y="708.0"/>
<use href="#d" x="1168.3" y="606.0"/>
<use href="#d" x="1158.9" y="603.0"/>
<use href="#d" x="947.4" y="623.3"/>
<use href="#d" x="957.8" y="667.5"/>
<use href="#d" x="1025.7" y="735.3"/>
<use href="#d" x="1079.6" y="701.5"/>
<use href="#d" x="1049.8" y="665.9"/>
<use href="#d" x="1176.2" y="552.4"/>
<use href="#d" x="1100.1" y="564.1"/>
<use href="#d" x="1085.1" y="640.9"/>
<use href="#d" x="1044.2" y="662.0"/>
<use href="#d" x="1122.0" y="736.8"/>
<use href="#d" x="1088.7" y="644.5"/>
<use href="#d" x="1131.5" y="604.3"/>
<use href="#d" x="1043.5" y="690.7"/>
<use href="#d" x="1181.1" y="687.9"/>
<use href="#d" x="1002.1" y="694.9"/>
<use href="#d" x="1080.5" y="561.9"/>
<use href="#d" x="1131.2" y="603.0"/>
<use href="#d" x="1085.7" y="758.3"/>
<use href="#d" x="1092.9" y="690.3"/>
<use href="#d" x="1027.3" y="567.6"/>
<use href="#d" x="973.6" y="625.0"/>
<use href="#d" x="1015.7" y="667.4"/>
<use href="#d" x="1078.7" y="628.5"/>
<use href="#d" x="1033.5" y="767.1"/>
<use href="#d" x="1059.3" y="581.0"/>
<use href="#d" x="1068.3" y="580.3"/>
<use href="#d" x="1138.5" y="634.2"/>
<use href="#d" x="1113.9" y="764.7"/>
<use href="#d" x="1160.7" y="589.6"/>
<use href="#d" x="1097.0" y="575.8"/>
<use href="#d" x="1068.6" y="673.3"/>
<use href="#d" x="994.2" y="604.2"/>
<use href="#d" x="1089.8" y="533.5"/>
<use href="#d" x="1053.1" y="565.6"/>
<use href="#d" x="1091.0" y="636.0"/>
<use href="#d" x="1052.2" y="627.4"/>
<use href="#d" x="1089.2" y="642.7"/>
<use href="#d" x="1058.8" y="569.7"/>
<use href="#d" x="1141.1" y="606.1"/>
<use href="#d" x="1058.6" y="582.7"/>
<use href="#d" x="1166.8" y="712.1"/>
<use href="#d" x="1013.9" y="670.9"/>
<use href="#d" x="1014.8" y="671.6"/>
<use href="#d" x="1097.2" y="667.7"/>
<use href="#d" x="1132.2" y="614.5"/>
<use href="#d" x="1064.8" y="587.0"/>
<use href="#d" x="1086.8" y="702.5"/>
<use href="#d" x="1127.8" y="692.5"/>
<use href="#d" x="1105.5" y="634.4"/>
<use href="#d" x="1069.9" y="589.9"/>
<use href="#d" x="1099.7" y="605.0"/>
<use href="#d" x="971.6" y="682.0"/>
<use href="#d" x="1040.0" y="637.3"/>
<use href="#d" x="1128.6" y="594.8"/>
<use href="#d" x="1122.7" y="710.4"/>
<use href="#d" x="1090.6" y="663.1"/>
<use href="#d" x="1093.6" y="572.3"/>
<use href="#d" x="1036.2" y="716.5"/>
<use href="#d" x="1134.9" y="634.2"/>
<use href="#d" x="1016.2" y="721.8"/>
<use href="#d" x="1064.0" y="681.3"/>
<use href="#d" x="1078.9" y="602.4"/>
<use href="#d" x="1081.6" y="667.9"/>
<use href="#d" x="1073.9" y="643.2"/>
<use href="#d" x="1097.7" y="627.0"/>
<use href="#d" x="1081.2" y="745.1"/>
<use href="#d" x="1104.0" y="664.8"/>
<use href="#d" x="1193.2" y="643.2"/>
<use href="#d" x="1047.1" y="610.3"/>
<use href="#d" x="1010.9" y="646.0"/>
<use href="#d" x="1099.1" y="698.1"/>
<use href="#d" x="1123.9" y="590.4"/>
<use href="#d" x="1104.5" y="600.9"/>
<use href="#d" x="1151.3" y="583.0"/>
<use href="#d" x="1075.1" y="661.8"/>
<use href="#d" x="1030.8" y="693.7"/>
<use href="#d" x="1119.5" y="657.5"/>
<use href="#d" x="1140.4" y="621.7"/>
<use href="#d" x="1021.8" y="632.5"/>
<use href="#d" x="1085.7" y="578.0"/>
<use href="#d" x="1111.3" y="564.2"/>
<use href="#d" x="1056.1" y="670.9"/>
<use href="#d" x="1082.2" y="585.8"/>
<use href="#d" x="1074.4" y="671.4"/>
<use href="#d" x="1027.2" y="649.4"/>
<use href="#d" x="1057.5" y="752.7"/>
<use href="#d" x="1077.0" y="723.9"/>
<use href="#d" x="1090.9" y="615.0"/>
<use href="#d" x="1062.3" y="617.9"/>
<use href="#d" x="963.5" y="631.6"/>
<use href="#d" x="1076.2" y="719.9"/>
<use href="#d" x="1151.3" y="683.5"/>
<use href="#d" x="1114.5" y="647.4"/>
<use href="#d" x="1089.0" y="561.4"/>
<use href="#d" x="1080.5" y="570.2"/>
<use href="#d" x="966.7" y="693.6"/>
<use href="#d" x="1140.7" y="671.1"/>
<use href="#d" x="1093.7" y="703.7"/>
<use href="#d" x="1024.5" y="594.3"/>
<use href="#d" x="1057.8" y="668.4"/>
<use href="#d" x="1122.5" y="670.3"/>
<use href="#d" x="1063.5" y="597.2"/>
<use href="#d" x="1113.7" y="544.6"/>
<use href="#d" x="1108.4" y="616.7"/>
<use href="#d" x="1102.1" y="687.4"/>
<use href="#d" x="1094.3" y="529.8"/>
<use href="#d" x="1133.4" y="650.5"/>
<use href="#d" x="1119.3" y="619.5"/>
<use href="#d" x="1037.8" y="629.0"/>
<use href="#d" x="1097.6" y="639.6"/>
<use href="#d" x="994.3" y="721.1"/>
<use href="#d" x="1102.1" y="601.0"/>
<use href="#d" x="1138.9" y="562.2"/>
<use href="#d" x="1139.7" y="775.6"/>
<use href="#d" x="1075.5" y="643.6"/>
<use href="#d" x="1009.0" y="605.8"/>
<use href="#d" x="1150.0" y="725.3"/>
<use href="#d" x="1069.2" y="724.8"/>
<use href="#d" x="974.4" y="636.3"/>
<use href="#d" x="1159.1" y="550.2"/>
<use href="#d" x="994.0" y="596.0"/>
<use href="#d" x="1101.7" y="648.3"/>
<use href="#d" x="1036.9" y="631.3"/>
<use href="#d" x="1024.4" y="757.9"/>
<use href="#d" x="1033.5" y="561.6"/>
<use href="#d" x="1030.6" y="642.9"/>
<use href="#d" x="1064.1" y="635.7"/>
<use href="#d" x="1097.5" y="632.0"/>
<use href="#d" x="1137.0" y="588.5"/>
<use href="#d" x="1088.7" y="648.8"/>
<use href="#d" x="1112.3" y="635.7"/>
<use href="#d" x="1106.8" y="592.5"/>
<use href="#d" x="1158.0" y="619.9"/>
<use href="#d" x="1068.2" y="717.4"/>
<use href="#d" x="959.0" y="603.8"/>
<use href="#d" x="997.0" y="775.8"/>
<use href="#d" x="1096.8" y="586.1"/>
<use href="#d" x="1010.3" y="656.5"/>
<use href="#d" x="1128.0" y="719.3"/>
<use href="#d" x="1046.7" y="674.2"/>
<use href="#d" x="1088.1" y="535.0"/>
<use href="#d" x="1075.1" y="611.1"/>
<use href="#d" x="1041.8" y="767.7"/>
<use href="#d" x="1095.4" y="683.4"/>
<use href="#d" x="1019.6" y="605.3"/>
<use href="#d" x="1043.8" y="565.6"/>
<use href="#d" x="1169.8" y="686.5"/>
<use href="#d" x="1076.0" y="673.4"/>
<use href="#d" x="1085.4" y="554.9"/>
<use href="#d" x="973.4" y="644.7"/>
<use href="#d" x="1162.3" y="720.3"/>
<use href="#d" x="1102.0" y="559.3"/>
<use href="#d" x="1151.0" y="532.4"/>
<use href="#d" x="1063.7" y="513.0"/>
<use href="#d" x="1144.2" y="661.4"/>
<use href="#d" x="983.0" y="588.8"/>
<use href="#d" x="1122.4" y="701.6"/>
<use href="#d" x="1088.5" y="650.4"/>
<use href="#d" x="1057.1" y="780.9"/>
<use href="#d" x="1046.5" y="690.7"/>
<use href="#d" x="1124.3" y="683.8"/>
<use href="#d" x="1118.6" y="605.2"/>
<use href="#d" x="1060.0" y="682.2"/>
<use href="#d" x="1112.2" y="711.0"/>
<use href="#d" x="971.0" y="709.7"/>
<use href="#d" x="1162.5" y="704.7"/>
<use href="#d" x="1032.9" y="637.7"/>
<use href="#d" x="1104.6" y="704.8"/>
<use href="#d" x="1129.1" y="767.4"/>
<use href="#d" x="1026.2" y="584.3"/>
<use href="#d" x="1117.4" y="615.2"/>
<use href="#d" x="963.3" y="660.1"/>
<use href="#d" x="1075.7" y="575.6"/>
<use href="#d" x="1032.6" y="670.6"/>
<use href="#d" x="1005.1" y="503.3"/>
<use href="#d" x="1104.1" y="685.2"/>
<use href="#d" x="1015.7" y="676.0"/>
<use href="#d" x="1038.2" y="701.4"/>
<use href="#d" x="1015.6" y="792.1"/>
<use href="#d" x="1121.0" y="710.7"/>
<use href="#d" x="1014.0" y="837.1"/>
<use href="#d" x="1017.4" y="727.9"/>
<use href="#d" x="1070.5" y="713.3"/>
<use href="#d" x="1093.8" y="734.9"/>
<use href="#d" x="993.2" y="635.1"/>
<use href="#d" x="982.6" y="824.5"/>
<use href="#d" x="909.7" y="826.8"/>
<use href="#d" x="1054.9" y="811.9"/>
<use href="#d" x="1129.9" y="783.8"/>
<use href="#d" x="1012.1" y="797.9"/>
<use href="#d" x="1049.8" y="867.5"/>
<use href="#d" x="1029.7" y="791.5"/>
<use href="#d" x="1097.2" y="763.6"/>
<use href="#d" x="1082.2" y="814.7"/>
<use href="#d" x="979.2" y="786.4"/>
<use href="#d" x="1094.7" y="785.7"/>
<use href="#d" x="991.5" y="891.8"/>
<use href="#d" x="984.9" y="790.4"/>
<use href="#d" x="997.9" y="829.8"/>
<use href="#d" x="1034.7" y="762.0"/>
<use href="#d" x="1010.7" y="886.3"/>
<use href="#d" x="994.1" y="882.5"/>
<use href="#d" x="1000.3" y="805.2"/>
<use href="#d" x="1039.8" y="811.7"/>
<use href="#d" x="1152.1" y="716.1"/>
<use href="#d" x="1040.7" y="815.6"/>
<use href="#d" x="1003.9" y="889.8"/>
<use href="#d" x="1027.1" y="904.9"/>
<use href="#d" x="1001.9" y="911.5"/>
<use href="#d" x="1139.1" y="844.5"/>
<use href="#d" x="1057.3" y="798.1"/>
<use href="#d" x="1011.2" y="708.0"/>
<use href="#d" x="1064.5" y="900.7"/>
<use href="#d" x="1003.7" y="887.7"/>
<use href="#d" x="994.6" y="675.3"/>
<use href="#d" x="1032.7" y="915.9"/>
<use href="#d" x="967.4" y="760.0"/>
<use href="#d" x="1080.6" y="873.2"/>
<use href="#d" x="959.7" y="1000.0"/>
<use href="#d" x="904.3" y="911.2"/>
<use href="#d" x="1052.1" y="862.4"/>
<use href="#d" x="1079.5" y="843.9"/>
<use href="#d" x="969.0" y="856.4"/>
<use href="#d" x="1095.6" y="763.3"/>
<use href="#d" x="1015.8" y="744.6"/>
<use href="#d" x="1023.7" y="889.8"/>
<use href="#d" x="988.2" y="941.3"/>
<use href="#d" x="1038.5" y="911.7"/>
<use href="#d" x="1013.1" y="777.0"/>
<use href="#d" x="995.0" y="763.3"/>
<use href="#d" x="1160.0" y="767.8"/>
<use href="#d" x="1040.4" y="846.4"/>
<use href="#d" x="1026.4" y="794.2"/>
<use href="#d" x="1047.4" y="742.3"/>
<use href="#d" x="969.5" y="844.7"/>
<use href="#d" x="1017.6" y="745.0"/>
<use href="#d" x="1010.8" y="811.8"/>
<use href="#d" x="961.5" y="777.7"/>
<use href="#d" x="1089.2" y="674.0"/>
<use href="#d" x="1041.8" y="852.8"/>
<use href="#d" x="1021.8" y="756.4"/>
<use href="#d" x="1008.4" y="925.4"/>
<use href="#d" x="1008.1" y="821.4"/>
<use href="#d" x="1049.2" y="821.0"/>
<use href="#d" x="1063.7" y="891.7"/>
<use href="#d" x="1040.2" y="788.3"/>
<use href="#d" x="1035.2" y="596.1"/>
<use href="#d" x="1000.1" y="773.4"/>
<use href="#d" x="1032.5" y="744.9"/>
<use href="#d" x="1021.0" y="823.3"/>
<use href="#d" x="924.6" y="794.7"/>
<use href="#d" x="1059.2" y="572.2"/>
<use href="#d" x="1024.7" y="805.1"/>
<use href="#d" x="1054.1" y="827.9"/>
<use href="#d" x="1068.2" y="871.8"/>
<use href="#d" x="1012.6" y="720.2"/>
<use href="#d" x="1097.1" y="779.7"/>
<use href="#d" x="1062.5" y="808.9"/>
<use href="#d" x="1099.9" y="812.4"/>
<use href="#d" x="1059.5" y="630.5"/>
<use href="#d" x="974.6" y="823.3"/>
<use href="#d" x="1019.2" y="577.5"/>
<use href="#d" x="940.7" y="621.2"/>
<use href="#d" x="1074.3" y="762.8"/>
<use href="#d" x="967.4" y="784.5"/>
<use href="#d" x="1071.3" y="777.1"/>
<use href="#d" x="955.9" y="852.8"/>
<use href="#d" x="1073.3" y="818.9"/>
<use href="#d" x="1046.0" y="762.0"/>
<use href="#d" x="947.5" y="1007.8"/>
<use href="#d" x="1023.6" y="835.5"/>
<use href="#d" x="945.2" y="744.7"/>
<use href="#d" x="932.8" y="991.8"/>
<use href="#d" x="972.2" y="859.9"/>
<use href="#d" x="1050.3" y="876.6"/>
<use href="#d" x="1062.6" y="821.4"/>
<use href="#d" x="1045.7" y="806.3"/>
<use href="#d" x="958.5" y="899.7"/>
<use href="#d" x="1169.5" y="817.1"/>
<use href="#d" x="1047.7" y="878.8"/>
<use href="#d" x="1055.9" y="796.1"/>
<use href="#d" x="963.4" y="777.5"/>
<use href="#d" x="1009.0" y="864.9"/>
<use href="#d" x="1050.0" y="750.1"/>
<use href="#d" x="1078.6" y="793.8"/>
<use href="#d" x="1115.9" y="771.6"/>
<use href="#d" x="1036.3" y="785.4"/>
<use href="#d" x="998.2" y="855.4"/>
<use href="#d" x="1088.6" y="824.3"/>
<use href="#d" x="1021.3" y="798.4"/>
<use href="#d" x="968.0" y="715.2"/>
<use href="#d" x="980.7" y="826.7"/>
<use href="#d" x="933.4" y="900.0"/>
<use href="#d" x="1054.3" y="709.2"/>
<use href="#d" x="958.3" y="809.0"/>
<use href="#d" x="1021.9" y="812.6"/>
<use href="#d" x="1009.9" y="849.3"/>
<use href="#d" x="1016.2" y="977.2"/>
<use href="#d" x="993.3" y="825.0"/>
<use href="#d" x="1077.4" y="802.9"/>
<use href="#d" x="985.9" y="897.6"/>
<use href="#d" x="1004.7" y="831.2"/>
<use href="#d" x="1056.6" y="897.8"/>
<use href="#d" x="1075.4" y="687.3"/>
<use href="#d" x="978.0" y="656.1"/>
<use href="#d" x="1013.4" y="852.9"/>
<use href="#d" x="941.9" y="910.7"/>
<use href="#d" x="1187.4" y="681.1"/>
<use href="#d" x="1038.3" y="759.9"/>
<use href="#d" x="967.4" y="804.6"/>
<use href="#d" x="1035.8" y="829.3"/>
<use href="#d" x="1095.7" y="821.0"/>
<use href="#d" x="1021.7" y="728.8"/>
<use href="#d" x="1056.6" y="752.2"/>
<use href="#d" x="1003.1" y="840.4"/>
<use href="#d" x="1016.3" y="879.6"/>
<use href="#d" x="1016.3" y="848.8"/>
<use href="#d" x="1012.2" y="775.4"/>
<use href="#d" x="1095.2" y="782.4"/>
<use href="#d" x="1122.2" y="817.5"/>
<use href="#d" x="964.9" y="870.8"/>
<use href="#d" x="1040.2" y="843.1"/>
<use href="#d" x="984.4" y="731.3"/>
<use href="#d" x="1088.6" y="807.2"/>
<use href="#d" x="1075.5" y="809.5"/>
<use href="#d" x="1008.6" y="759.3"/>
<use href="#d" x="1069.0" y="687.7"/>
<use href="#d" x="1022.3" y="868.9"/>
<use href="#d" x="1077.1" y="752.2"/>
<use href="#d" x="959.4" y="740.8"/>
<use href="#d" x="1026.0" y="812.4"/>
<use href="#d" x="937.7" y="704.8"/>
<use href="#d" x="1123.1" y="774.2"/>
<use href="#d" x="1077.8" y="866.4"/>
<use href="#d" x="978.8" y="814.0"/>
<use href="#d" x="1034.2" y="1018.6"/>
<use href="#d" x="1118.3" y="614.7"/>
<use href="#d" x="941.4" y="914.9"/>
<use href="#d" x="1004.6" y="764.9"/>
<use href="#d" x="1019.6" y="788.4"/>
<use href="#d" x="1050.2" y="852.7"/>
<use href="#d" x="1017.7" y="775.1"/>
<use href="#d" x="1024.6" y="791.8"/>
<use href="#d" x="980.0" y="818.3"/>
<use href="#d" x="1038.7" y="778.9"/>
<use href="#d" x="1094.1" y="825.0"/>
<use href="#d" x="1082.5" y="864.6"/>
<use href="#d" x="972.6" y="755.8"/>
<use href="#d" x="998.0" y="814.0"/>
<use href="#d" x="1149.7" y="703.9"/>
<use href="#d" x="1093.3" y="740.7"/>
<use href="#d" x="1123.2" y="705.4"/>
<use href="#d" x="980.9" y="791.9"/>
<use href="#d" x="916.9" y="728.9"/>
<use href="#d" x="958.5" y="891.3"/>
<use href="#d" x="1040.3" y="756.7"/>
<use href="#d" x="1008.0" y="858.4"/>
<use href="#d" x="972.3" y="775.8"/>
<use href="#d" x="1094.6" y="633.3"/>
<use href="#d" x="1022.6" y="897.1"/>
<use href="#d" x="1025.7" y="736.0"/>
<use href="#d" x="1009.2" y="778.6"/>
<use href="#d" x="1046.8" y="774.1"/>
<use href="#d" x="1056.8" y="830.7"/>
<use href="#d" x="1083.0" y="850.3"/>
<use href="#d" x="1034.3" y="781.7"/>
<use href="#d" x="915.8" y="802.0"/>
<use href="#d" x="947.6" y="778.0"/>
<use href="#d" x="1123.8" y="744.2"/>
<use href="#d" x="1058.4" y="838.0"/>
<use href="#d" x="1104.4" y="800.5"/>
<use href="#d" x="1082.6" y="800.7"/>
<use href="#d" x="950.1" y="733.9"/>
<use href="#d" x="1084.0" y="817.7"/>
<use href="#d" x="1101.1" y="756.0"/>
<use href="#d" x="997.2" y="717.7"/>
<use href="#d" x="1043.4" y="676.4"/>
<use href="#d" x="1040.0" y="815.2"/>
<use href="#d" x="974.2" y="795.6"/>
<use href="#d" x="998.3" y="821.0"/>
<use href="#d" x="982.7" y="932.4"/>
<use href="#d" x="1088.1" y="810.3"/>
<use href="#d" x="928.5" y="872.4"/>
<use href="#d" x="1051.7" y="741.3"/>
<use href="#d" x="1097.0" y="858.8"/>
<use href="#d" x="953.4" y="839.2"/>
<use href="#d" x="1066.6" y="722.8"/>
<use href="#d" x="1027.8" y="770.1"/>
<use href="#d" x="1073.8" y="731.8"/>
<use href="#d" x="1007.8" y="746.1"/>
<use href="#d" x="1093.7" y="758.2"/>
<use href="#d" x="987.8" y="843.8"/>
<use href="#d" x="909.2" y="846.9"/>
<use href="#d" x="1049.9" y="834.2"/>
<use href="#d" x="1103.4" y="665.9"/>
<use href="#d" x="1110.3" y="782.6"/>
<use href="#d" x="961.1" y="759.2"/>
<use href="#d" x="981.3" y="761.9"/>
<use href="#d" x="1045.4" y="791.9"/>
<use href="#d" x="1021.5" y="709.0"/>
<use href="#d" x="1042.9" y="738.2"/>
<use href="#d" x="1070.9" y="712.8"/>
<use href="#d" x="983.4" y="781.5"/>
<use href="#d" x="950.5" y="660.6"/>
<use href="#d" x="957.9" y="709.6"/>
<use href="#d" x="1078.0" y="831.1"/>
<use href="#d" x="994.8" y="803.1"/>
<use href="#d" x="918.8" y="812.5"/>
<use href="#d" x="1115.4" y="815.9"/>
<use href="#d" x="983.0" y="794.1"/>
<use href="#d" x="915.0" y="612.8"/>
<use href="#d" x="1018.2" y="760.3"/>
<use href="#d" x="1017.6" y="855.7"/>
<use href="#d" x="1050.5" y="710.1"/>
<use href="#d" x="1061.2" y="737.6"/>
<use href="#d" x="1010.7" y="825.2"/>
<use href="#d" x="996.0" y="805.5"/>
<use href="#d" x="1077.6" y="806.2"/>
<use href="#d" x="1032.0" y="846.7"/>
<use href="#d" x="1055.3" y="756.4"/>
<use href="#d" x="1111.1" y="713.3"/>
<use href="#d" x="1106.0" y="693.4"/>
<use href="#d" x="1006.2" y="739.0"/>
<use href="#d" x="1086.1" y="711.6"/>
<use href="#d" x="969.8" y="910.6"/>
<use href="#d" x="1032.8" y="877.2"/>
<use href="#d" x="990.3" y="798.9"/>
<use href="#d" x="966.1" y="727.1"/>
<use href="#d" x="1033.3" y="905.2"/>
<use href="#d" x="1030.1" y="788.9"/>
<use href="#d" x="1057.3" y="713.4"/>
<use href="#d" x="1056.6" y="848.3"/>
<use href="#d" x="1144.4" y="730.1"/>
<use href="#d" x="1079.3" y="719.8"/>
<use href="#d" x="1036.9" y="764.4"/>
<use href="#d" x="1095.2" y="730.7"/>
<use href="#d" x="1029.8" y="859.8"/>
<use href="#d" x="968.7" y="835.1"/>
<use href="#d" x="967.5" y="837.4"/>
<use href="#d" x="1102.4" y="744.0"/>
<use href="#d" x="1100.5" y="691.2"/>
<use href="#d" x="1153.7" y="773.0"/>
<use href="#d" x="1029.5" y="742.3"/>
<use href="#d" x="1022.0" y="827.9"/>
<use href="#d" x="1126.7" y="790.1"/>
<use href="#d" x="1075.4" y="832.2"/>
<use href="#d" x="984.3" y="890.9"/>
<use href="#d" x="1020.8" y="936.7"/>
<use href="#d" x="1086.7" y="659.4"/>
<use href="#d" x="1108.9" y="745.6"/>
<use href="#d" x="1133.9" y="560.1"/>
<use href="#d" x="1026.8" y="744.5"/>
<use href="#d" x="1014.2" y="495.4"/>
<use href="#d" x="1128.4" y="596.0"/>
<use href="#d" x="1108.0" y="655.1"/>
<use href="#d" x="1262.5" y="665.1"/>
<use href="#d" x="1190.3" y="663.1"/>
<use href="#d" x="1208.5" y="699.6"/>
<use href="#d" x="1067.7" y="575.3"/>
<use href="#d" x="1243.4" y="648.8"/>
<use href="#d" x="1111.0" y="571.4"/>
<use href="#d" x="1049.6" y="686.4"/>
<use href="#d" x="1051.4" y="920.5"/>
<use href="#d" x="1143.7" y="487.3"/>
<use href="#d" x="918.2" y="575.2"/>
<use href="#d" x="1235.7" y="655.7"/>
<use href="#d" x="1166.7" y="586.5"/>
<use href="#d" x="984.2" y="774.6"/>
<use href="#d" x="991.1" y="503.2"/>
<use href="#d" x="1077.8" y="607.0"/>
<use href="#d" x="1035.6" y="609.1"/>
<use href="#d" x="926.3" y="633.8"/>
<use href="#d" x="1120.3" y="510.9"/>
<use href="#d" x="1067.8" y="632.5"/>
<use href="#d" x="951.5" y="784.0"/>
<use href="#d" x="1144.2" y="648.8"/>
<use href="#d" x="1007.3" y="703.0"/>
<use href="#d" x="946.6" y="690.3"/>
<use href="#d" x="918.8" y="476.2"/>
<use href="#d" x="1027.6" y="691.3"/>
<use href="#d" x="1120.2" y="743.1"/>
<use href="#d" x="1019.2" y="677.7"/>
<use href="#d" x="1009.9" y="928.4"/>
<use href="#d" x="1028.7" y="760.4"/>
<use href="#d" x="1142.1" y="594.9"/>
<use href="#d" x="1174.6" y="618.1"/>
<use href="#d" x="951.1" y="546.3"/>
<use href="#d" x="1023.0" y="563.5"/>
<use href="#d" x="994.1" y="835.2"/>
<use href="#d" x="981.8" y="551.0"/>
<use href="#d" x="1196.8" y="512.5"/>
<use href="#d" x="1072.8" y="655.3"/>
<use href="#d" x="1020.7" y="607.0"/>
<use href="#d" x="903.5" y="739.4"/>
<use href="#d" x="942.7" y="687.6"/>
<use href="#d" x="1190.9" y="684.0"/>
<use href="#d" x="1195.6" y="563.3"/>
<use href="#d" x="944.8" y="811.1"/>
<use href="#d" x="1231.8" y="704.7"/>
<use href="#d" x="902.7" y="678.5"/>
<use href="#d" x="1066.3" y="650.8"/>
<use href="#d" x="1061.9" y="503.3"/>
<use href="#d" x="1144.6" y="490.3"/>
<use href="#d" x="957.1" y="561.6"/>
<use href="#d" x="1175.9" y="668.6"/>
<use href="#d" x="947.6" y="769.0"/>
<use href="#d" x="976.9" y="565.6"/>
<use href="#d" x="1193.2" y="613.1"/>
<use href="#d" x="1053.9" y="697.3"/>
</g>
<g>
<use href="#ot" x="1324.6" y="383.9"/>
<use href="#ot" x="1144.0" y="317.4"/>
<use href="#ot" x="962.1" y="263.7"/>
<use href="#ot" x="993.5" y="291.5"/>
<use href="#ot" x="853.8" y="337.6"/>
<use href="#ot" x="897.6" y="359.3"/>
<use href="#ot" x="837.3" y="372.3"/>
<use href="#ot" x="840.9" y="370.2"/>
<use href="#ot" x="847.6" y="396.4"/>
<use href="#ot" x="640.9" y="398.0"/>
<use href="#ot" x="699.3" y="391.8"/>
<use href="#ot" x="538.5" y="498.7"/>
<use href="#ot" x="631.6" y="512.6"/>
<use href="#ot" x="664.7" y="603.8"/>
<use href="#ot" x="681.9" y="455.6"/>
<use href="#ot" x="727.9" y="433.8"/>
<use href="#ot" x="736.2" y="435.9"/>
<use href="#ot" x="693.7" y="475.9"/>
<use href="#ot" x="702.0" y="479.0"/>
<use href="#ot" x="734.2" y="507.0"/>
<use href="#ot" x="729.0" y="585.1"/>
<use href="#ot" x="734.2" y="592.8"/>
<use href="#ot" x="739.3" y="590.3"/>
<use href="#ot" x="744.1" y="453.7"/>
<use href="#ot" x="741.8" y="476.5"/>
<use href="#ot" x="746.6" y="501.0"/>
<use href="#ot" x="692.3" y="550.1"/>
<use href="#ot" x="661.2" y="560.5"/>
<use href="#ot" x="749.1" y="558.0"/>
<use href="#ot" x="753.8" y="563.2"/>
<use href="#ot" x="1448.7" y="460.8"/>
<use href="#ot" x="1419.4" y="484.1"/>
<use href="#ot" x="1462.7" y="495.3"/>
<use href="#ot" x="1436.0" y="509.5"/>
<use href="#ot" x="1395.0" y="525.1"/>
<use href="#ot" x="1294.5" y="529.0"/>
<use href="#ot" x="1149.7" y="595.0"/>
<use href="#ot" x="811.1" y="401.8"/>
<use href="#ot" x="848.7" y="391.7"/>
<use href="#ot" x="867.1" y="404.9"/>
<use href="#ot" x="809.7" y="440.9"/>
<use href="#ot" x="859.9" y="449.0"/>
<use href="#ot" x="864.2" y="468.1"/>
<use href="#ot" x="779.6" y="457.2"/>
<use href="#ot" x="826.9" y="468.1"/>
<use href="#ot" x="899.1" y="470.7"/>
<use href="#ot" x="842.1" y="495.3"/>
<use href="#ot" x="904.9" y="494.9"/>
<use href="#ot" x="790.2" y="504.6"/>
<use href="#ot" x="849.6" y="518.0"/>
<use href="#ot" x="843.1" y="522.1"/>
<use href="#ot" x="816.5" y="523.1"/>
<use href="#ot" x="890.8" y="527.3"/>
<use href="#ot" x="797.1" y="523.1"/>
<use href="#ot" x="801.0" y="529.0"/>
<use href="#ot" x="806.2" y="527.7"/>
<use href="#ot" x="785.5" y="540.6"/>
<use href="#ot" x="804.2" y="544.5"/>
<use href="#ot" x="782.9" y="553.6"/>
<use href="#ot" x="865.8" y="549.0"/>
<use href="#ot" x="843.1" y="556.2"/>
<use href="#ot" x="846.3" y="566.5"/>
<use href="#ot" x="814.6" y="570.4"/>
<use href="#ot" x="871.6" y="574.3"/>
<use href="#ot" x="911.1" y="575.6"/>
<use href="#ot" x="916.9" y="571.7"/>
<use href="#ot" x="745.3" y="474.6"/>
<use href="#ot" x="749.2" y="504.4"/>
<use href="#ot" x="798.4" y="476.6"/>
<use href="#ot" x="802.3" y="474.0"/>
<use href="#ot" x="804.9" y="477.9"/>
<use href="#ot" x="826.9" y="455.3"/>
<use href="#ot" x="836.2" y="453.7"/>
<use href="#ot" x="1011.6" y="448.5"/>
<use href="#ot" x="1015.2" y="452.8"/>
<use href="#ot" x="985.3" y="497.7"/>
<use href="#ot" x="933.3" y="496.6"/>
<use href="#ot" x="934.0" y="432.2"/>
<use href="#ot" x="945.4" y="434.3"/>
<use href="#ot" x="957.8" y="404.5"/>
<use href="#ot" x="944.7" y="464.1"/>
<use href="#ot" x="968.5" y="468.3"/>
<use href="#ot" x="948.9" y="478.3"/>
<use href="#ot" x="965.3" y="532.5"/>
<use href="#ot" x="995.2" y="551.7"/>
<use href="#ot" x="1005.2" y="564.5"/>
<use href="#ot" x="981.7" y="593.7"/>
<use href="#ot" x="1142.0" y="430.6"/>
<use href="#ot" x="779.3" y="581.4"/>
<use href="#ot" x="892.9" y="597.8"/>
<use href="#ot" x="890.8" y="601.3"/>
<use href="#ot" x="912.1" y="598.5"/>
<use href="#ot" x="904.6" y="611.3"/>
<use href="#ot" x="876.1" y="612.0"/>
<use href="#ot" x="858.7" y="616.3"/>
<use href="#ot" x="846.3" y="626.4"/>
<use href="#ot" x="873.2" y="668.3"/>
<use href="#ot" x="789.9" y="676.4"/>
<use href="#ot" x="910.7" y="681.1"/>
<use href="#ot" x="769.6" y="728.9"/>
<use href="#ot" x="926.4" y="758.8"/>
<use href="#ot" x="942.1" y="659.7"/>
<use href="#ot" x="949.9" y="619.8"/>
<use href="#ot" x="959.2" y="619.8"/>
<use href="#ot" x="1030.5" y="662.6"/>
<use href="#ot" x="943.3" y="664.0"/>
<use href="#ot" x="999.2" y="871.9"/>
<use href="#ot" x="802.3" y="917.5"/>
<use href="#ot" x="812.7" y="914.1"/>
<use href="#ot" x="587.0" y="994.7"/>
<use href="#ot" x="721.7" y="1066.0"/>
<use href="#ot" x="209.5" y="1129.2"/>
<use href="#ot" x="234.2" y="1245.3"/>
<use href="#ot" x="265.5" y="1143.9"/>
<use href="#ot" x="306.1" y="1154.8"/>
<use href="#ot" x="310.4" y="1172.4"/>
<use href="#ot" x="393.5" y="1158.1"/>
<use href="#ot" x="332.9" y="1189.0"/>
<use href="#ot" x="330.4" y="1202.6"/>
<use href="#ot" x="279.8" y="1206.8"/>
<use href="#ot" x="213.9" y="1216.8"/>
<use href="#ot" x="220.6" y="1235.3"/>
<use href="#ot" x="257.7" y="1243.2"/>
<use href="#ot" x="257.0" y="1262.4"/>
<use href="#ot" x="235.6" y="1276.0"/>
<use href="#ot" x="267.7" y="1273.8"/>
<use href="#ot" x="280.5" y="1273.8"/>
<use href="#ot" x="308.3" y="1214.7"/>
<use href="#ot" x="298.3" y="1225.4"/>
<use href="#ot" x="305.4" y="1226.8"/>
<use href="#ot" x="301.1" y="1243.9"/>
<use href="#ot" x="308.3" y="1243.9"/>
<use href="#ot" x="296.9" y="1251.0"/>
<use href="#ot" x="319.0" y="1290.9"/>
<use href="#ot" x="284.0" y="1303.7"/>
<use href="#ot" x="309.7" y="1302.3"/>
<use href="#ot" x="440.4" y="1198.4"/>
<use href="#ot" x="337.8" y="1232.6"/>
<use href="#ot" x="359.8" y="1231.2"/>
<use href="#ot" x="368.4" y="1244.0"/>
<use href="#ot" x="322.8" y="1255.4"/>
<use href="#ot" x="361.3" y="1251.1"/>
<use href="#ot" x="347.0" y="1248.3"/>
<use href="#ot" x="372.0" y="1206.9"/>
<use href="#ot" x="377.7" y="1214.1"/>
<use href="#ot" x="381.2" y="1224.0"/>
<use href="#ot" x="442.5" y="1210.5"/>
</g>
<g>
<use href="#ci" x="691.5" y="648.9"/>
<use href="#ci" x="650.0" y="761.2"/>
<use href="#ci" x="1263.4" y="694.0"/>
<use href="#ci" x="1249.2" y="732.1"/>
<use href="#ci" x="847.2" y="543.9"/>
<use href="#ci" x="846.3" y="567.2"/>
<use href="#ci" x="1040.8" y="532.5"/>
<use href="#ci" x="940.6" y="672.6"/>
<use href="#ci" x="988.6" y="618.1"/>
<use href="#ci" x="1081.9" y="612.4"/>
<use href="#ci" x="1109.3" y="616.7"/>
<use href="#ci" x="1129.0" y="716.0"/>
<use href="#ci" x="799.2" y="862.8"/>
<use href="#ci" x="882.6" y="881.8"/>
<use href="#ci" x="965.5" y="884.4"/>
<use href="#ci" x="1028.2" y="907.7"/>
<use href="#ci" x="1099.4" y="796.8"/>
<use href="#ci" x="850.0" y="949.6"/>
<use href="#ci" x="872.2" y="999.6"/>
<use href="#ci" x="889.9" y="1039.0"/>
<use href="#ci" x="788.6" y="1021.7"/>
<use href="#ci" x="801.5" y="1025.8"/>
<use href="#ci" x="777.7" y="1031.0"/>
<use href="#ci" x="747.9" y="1126.6"/>
<use href="#ci" x="624.8" y="919.8"/>
<use href="#ci" x="721.5" y="917.3"/>
<use href="#ci" x="574.1" y="950.9"/>
<use href="#ci" x="659.0" y="978.4"/>
<use href="#ci" x="587.0" y="993.9"/>
<use href="#ci" x="618.6" y="1019.8"/>
<use href="#ci" x="683.9" y="1030.5"/>
<use href="#ci" x="734.7" y="1064.9"/>
<use href="#ci" x="725.6" y="1088.0"/>
<use href="#ci" x="597.6" y="1079.2"/>
<use href="#ci" x="610.1" y="1076.3"/>
<use href="#ci" x="611.6" y="1088.5"/>
<use href="#ci" x="663.4" y="1089.3"/>
<use href="#ci" x="645.8" y="1101.5"/>
<use href="#ci" x="638.6" y="1113.4"/>
<use href="#ci" x="619.4" y="1114.7"/>
<use href="#ci" x="678.5" y="1114.4"/>
<use href="#ci" x="489.3" y="1118.5"/>
<use href="#ci" x="509.8" y="1134.6"/>
<use href="#ci" x="504.4" y="1147.0"/>
<use href="#ci" x="564.5" y="1135.4"/>
<use href="#ci" x="604.4" y="1142.6"/>
<use href="#ci" x="607.5" y="1153.8"/>
<use href="#ci" x="592.2" y="1157.2"/>
<use href="#ci" x="643.7" y="1150.4"/>
<use href="#ci" x="638.8" y="1157.2"/>
<use href="#ci" x="620.4" y="1167.8"/>
<use href="#ci" x="669.9" y="1162.3"/>
<use href="#ci" x="486.0" y="1166.0"/>
<use href="#ci" x="461.6" y="1174.8"/>
<use href="#ci" x="533.4" y="1171.4"/>
<use href="#ci" x="541.4" y="1171.7"/>
<use href="#ci" x="505.7" y="1188.0"/>
<use href="#ci" x="538.0" y="1189.8"/>
<use href="#ci" x="669.6" y="1194.2"/>
<use href="#ci" x="526.9" y="1220.9"/>
<use href="#ci" x="454.4" y="1196.3"/>
<use href="#ci" x="462.1" y="1198.9"/>
<use href="#ci" x="445.3" y="1194.2"/>
<use href="#ci" x="265.5" y="1143.9"/>
<use href="#ci" x="306.1" y="1154.8"/>
<use href="#ci" x="310.4" y="1172.4"/>
<use href="#ci" x="393.5" y="1158.1"/>
<use href="#ci" x="332.9" y="1189.0"/>
<use href="#ci" x="330.4" y="1202.6"/>
<use href="#ci" x="279.8" y="1206.8"/>
<use href="#ci" x="213.9" y="1216.8"/>
<use href="#ci" x="220.6" y="1235.3"/>
<use href="#ci" x="257.7" y="1243.2"/>
<use href="#ci" x="257.0" y="1262.4"/>
<use href="#ci" x="235.6" y="1276.0"/>
<use href="#ci" x="267.7" y="1273.8"/>
<use href="#ci" x="280.5" y="1273.8"/>
<use href="#ci" x="308.3" y="1214.7"/>
<use href="#ci" x="298.3" y="1225.4"/>
<use href="#ci" x="305.4" y="1226.8"/>
<use href="#ci" x="301.1" y="1243.9"/>
<use href="#ci" x="308.3" y="1243.9"/>
<use href="#ci" x="296.9" y="1251.0"/>
<use href="#ci" x="319.0" y="1290.9"/>
<use href="#ci" x="284.0" y="1303.7"/>
<use href="#ci" x="309.7" y="1302.3"/>
<use href="#ci" x="326.5" y="1162.4"/>
<use href="#ci" x="358.1" y="1108.1"/>
<use href="#ci" x="404.2" y="1125.2"/>
<use href="#ci" x="266.9" y="1196.9"/>
<use href="#ci" x="254.4" y="1211.8"/>
<use href="#ci" x="249.1" y="1219.0"/>
<use href="#ci" x="245.6" y="1225.4"/>
<use href="#ci" x="233.9" y="1256.0"/>
<use href="#ci" x="279.1" y="1256.7"/>
<use href="#ci" x="284.8" y="1227.5"/>
<use href="#ci" x="395.9" y="1199.7"/>
<use href="#ci" x="402.3" y="1189.7"/>
<use href="#ci" x="362.7" y="1290.9"/>
<use href="#ci" x="255.3" y="1300.9"/>
<use href="#ci" x="282.6" y="1286.6"/>
<use href="#ci" x="295.4" y="1294.5"/>
<use href="#ci" x="309.7" y="1289.5"/>
<use href="#ci" x="325.4" y="1289.5"/>
<use href="#ci" x="440.4" y="1198.4"/>
<use href="#ci" x="337.8" y="1232.6"/>
<use href="#ci" x="359.8" y="1231.2"/>
<use href="#ci" x="368.4" y="1244.0"/>
<use href="#ci" x="322.8" y="1255.4"/>
<use href="#ci" x="361.3" y="1251.1"/>
<use href="#ci" x="347.0" y="1248.3"/>
<use href="#ci" x="372.0" y="1206.9"/>
<use href="#ci" x="377.7" y="1214.1"/>
<use href="#ci" x="381.2" y="1224.0"/>
<use href="#ci" x="436.1" y="1169.2"/>
<use href="#ci" x="432.5" y="1192.7"/>
<use href="#ci" x="430.4" y="1215.1"/>
<use href="#ci" x="352.7" y="1211.2"/>
<use href="#ci" x="361.3" y="1211.9"/>
<use href="#ci" x="325.6" y="1224.0"/>
<use href="#ci" x="397.6" y="1236.9"/>
<use href="#ci" x="394.0" y="1252.5"/>
<use href="#ci" x="376.9" y="1259.7"/>
<use href="#ci" x="371.2" y="1266.8"/>
<use href="#ci" x="345.6" y="1263.9"/>
<use href="#ci" x="341.3" y="1262.5"/>
<use href="#ci" x="359.8" y="1263.9"/>
<use href="#ci" x="385.5" y="1263.9"/>
<use href="#ci" x="334.2" y="1236.9"/>
<use href="#ci" x="318.5" y="1238.3"/>
<use href="#ci" x="349.9" y="1232.6"/>
<use href="#ci" x="419.3" y="1244.0"/>
<use href="#ci" x="321.4" y="1310.7"/>
<use href="#ci" x="376.7" y="1324.5"/>
<use href="#ci" x="324.9" y="1329.8"/>
<use href="#ci" x="300.0" y="1335.2"/>
<use href="#ci" x="266.7" y="1314.6"/>
</g>
<g>
<use href="#st" x="1404.9" y="53.4"/>
<use href="#st" x="1352.3" y="139.4"/>
<use href="#st" x="1309.0" y="161.1"/>
<use href="#st" x="1413.9" y="155.4"/>
<use href="#st" x="1467.6" y="178.2"/>
<use href="#st" x="1222.2" y="205.7"/>
<use href="#st" x="1248.1" y="257.0"/>
<use href="#st" x="1366.8" y="272.0"/>
<use href="#st" x="1326.1" y="220.2"/>
<use href="#st" x="1393.5" y="393.5"/>
<use href="#st" x="962.1" y="262.4"/>
<use href="#st" x="993.5" y="290.2"/>
<use href="#st" x="853.8" y="336.3"/>
<use href="#st" x="897.6" y="358.0"/>
<use href="#st" x="837.3" y="371.0"/>
<use href="#st" x="840.9" y="368.9"/>
<use href="#st" x="1090.6" y="377.5"/>
<use href="#st" x="1133.9" y="347.2"/>
<use href="#st" x="640.9" y="396.7"/>
<use href="#st" x="699.3" y="390.5"/>
<use href="#st" x="538.5" y="497.5"/>
<use href="#st" x="631.6" y="511.3"/>
<use href="#st" x="664.7" y="602.5"/>
<use href="#st" x="704.1" y="445.0"/>
<use href="#st" x="681.9" y="454.4"/>
<use href="#st" x="727.9" y="432.6"/>
<use href="#st" x="736.2" y="434.7"/>
<use href="#st" x="693.7" y="474.7"/>
<use href="#st" x="702.0" y="477.8"/>
<use href="#st" x="734.2" y="505.8"/>
<use href="#st" x="729.0" y="583.9"/>
<use href="#st" x="734.2" y="591.6"/>
<use href="#st" x="739.3" y="589.1"/>
<use href="#st" x="1230.8" y="617.0"/>
<use href="#st" x="888.4" y="422.7"/>
<use href="#st" x="913.9" y="461.2"/>
<use href="#st" x="779.6" y="456.4"/>
<use href="#st" x="826.9" y="454.5"/>
<use href="#st" x="836.2" y="452.9"/>
<use href="#st" x="798.4" y="475.9"/>
<use href="#st" x="802.3" y="473.3"/>
<use href="#st" x="804.9" y="477.2"/>
<use href="#st" x="798.4" y="522.5"/>
<use href="#st" x="1021.2" y="434.1"/>
<use href="#st" x="1011.6" y="447.7"/>
<use href="#st" x="1015.2" y="452.0"/>
<use href="#st" x="996.4" y="461.2"/>
<use href="#st" x="985.3" y="496.8"/>
<use href="#st" x="933.3" y="495.7"/>
<use href="#st" x="934.0" y="431.3"/>
<use href="#st" x="945.4" y="433.4"/>
<use href="#st" x="846.3" y="625.5"/>
<use href="#st" x="953.7" y="635.2"/>
<use href="#st" x="999.2" y="870.6"/>
<use href="#st" x="802.3" y="916.2"/>
<use href="#st" x="812.7" y="912.8"/>
</g>
<g>
<use href="#ft" x="1404.9" y="54.9"/>
<use href="#ft" x="1352.3" y="140.9"/>
<use href="#ft" x="1309.0" y="162.7"/>
<use href="#ft" x="1413.9" y="157.0"/>
<use href="#ft" x="1467.6" y="179.8"/>
<use href="#ft" x="1222.2" y="207.3"/>
<use href="#ft" x="1248.1" y="258.5"/>
<use href="#ft" x="1366.8" y="274.1"/>
<use href="#ft" x="1361.1" y="257.3"/>
<use href="#ft" x="1393.5" y="395.1"/>
<use href="#ft" x="1382.6" y="180.8"/>
<use href="#ft" x="1413.4" y="215.0"/>
<use href="#ft" x="1458.0" y="213.0"/>
<use href="#ft" x="1404.9" y="296.6"/>
<use href="#ft" x="1424.6" y="323.1"/>
<use href="#ft" x="1306.7" y="340.7"/>
<use href="#ft" x="1452.5" y="364.8"/>
<use href="#ft" x="1420.4" y="541.1"/>
</g>
<g>
<use href="#cr" x="1324.6" y="382.9"/>
<use href="#cr" x="1331.0" y="441.7"/>
<use href="#cr" x="1333.9" y="447.9"/>
<use href="#cr" x="1371.7" y="458.0"/>
<use href="#cr" x="1339.6" y="548.1"/>
<use href="#cr" x="1256.7" y="566.0"/>
<use href="#cr" x="1366.8" y="570.4"/>
<use href="#cr" x="1346.8" y="576.9"/>
<use href="#cr" x="1407.7" y="580.0"/>
<use href="#cr" x="1294.8" y="595.0"/>
<use href="#cr" x="1385.7" y="599.4"/>
<use href="#cr" x="1162.1" y="605.9"/>
<use href="#cr" x="1263.2" y="610.6"/>
<use href="#cr" x="1294.8" y="616.3"/>
<use href="#cr" x="1237.8" y="610.6"/>
<use href="#cr" x="1179.8" y="626.1"/>
<use href="#cr" x="1223.3" y="661.9"/>
<use href="#cr" x="1149.7" y="718.1"/>
<use href="#cr" x="1083.3" y="584.5"/>
<use href="#cr" x="1108.5" y="584.5"/>
<use href="#cr" x="1126.3" y="585.2"/>
<use href="#cr" x="827.4" y="648.6"/>
<use href="#cr" x="1077.9" y="632.7"/>
<use href="#cr" x="1100.5" y="687.1"/>
<use href="#cr" x="901.5" y="786.9"/>
</g>
</g>
<rect x="146.8" y="23.9" width="1395.3" height="1440.1" fill="none" stroke="#000" stroke-width="3.2"/>
<g stroke="#000" stroke-width="1.5">
<path d="M146.8,1464.0400000000002v-11M146.8,23.9v11" stroke-width="1.8"/>
<path d="M244.5,1464.0400000000002v-5.5M244.5,23.9v5.5" stroke-width="1.4"/>
<path d="M301.6,1464.0400000000002v-5.5M301.6,23.9v5.5" stroke-width="1.4"/>
<path d="M342.1,1464.0400000000002v-5.5M342.1,23.9v5.5" stroke-width="1.4"/>
<path d="M373.5,1464.0400000000002v-5.5M373.5,23.9v5.5" stroke-width="1.4"/>
<path d="M399.2,1464.0400000000002v-5.5M399.2,23.9v5.5" stroke-width="1.4"/>
<path d="M420.9,1464.0400000000002v-5.5M420.9,23.9v5.5" stroke-width="1.4"/>
<path d="M439.8,1464.0400000000002v-5.5M439.8,23.9v5.5" stroke-width="1.4"/>
<path d="M456.4,1464.0400000000002v-5.5M456.4,23.9v5.5" stroke-width="1.4"/>
<path d="M471.2,1464.0400000000002v-11M471.2,23.9v11" stroke-width="1.8"/>
<path d="M568.9,1464.0400000000002v-5.5M568.9,23.9v5.5" stroke-width="1.4"/>
<path d="M626.0,1464.0400000000002v-5.5M626.0,23.9v5.5" stroke-width="1.4"/>
<path d="M666.5,1464.0400000000002v-5.5M666.5,23.9v5.5" stroke-width="1.4"/>
<path d="M697.9,1464.0400000000002v-5.5M697.9,23.9v5.5" stroke-width="1.4"/>
<path d="M723.6,1464.0400000000002v-5.5M723.6,23.9v5.5" stroke-width="1.4"/>
<path d="M745.3,1464.0400000000002v-5.5M745.3,23.9v5.5" stroke-width="1.4"/>
<path d="M764.2,1464.0400000000002v-5.5M764.2,23.9v5.5" stroke-width="1.4"/>
<path d="M780.8,1464.0400000000002v-5.5M780.8,23.9v5.5" stroke-width="1.4"/>
<path d="M795.6,1464.0400000000002v-11M795.6,23.9v11" stroke-width="1.8"/>
<path d="M893.3,1464.0400000000002v-5.5M893.3,23.9v5.5" stroke-width="1.4"/>
<path d="M950.4,1464.0400000000002v-5.5M950.4,23.9v5.5" stroke-width="1.4"/>
<path d="M990.9,1464.0400000000002v-5.5M990.9,23.9v5.5" stroke-width="1.4"/>
<path d="M1022.3,1464.0400000000002v-5.5M1022.3,23.9v5.5" stroke-width="1.4"/>
<path d="M1048.0,1464.0400000000002v-5.5M1048.0,23.9v5.5" stroke-width="1.4"/>
<path d="M1069.7,1464.0400000000002v-5.5M1069.7,23.9v5.5" stroke-width="1.4"/>
<path d="M1088.6,1464.0400000000002v-5.5M1088.6,23.9v5.5" stroke-width="1.4"/>
<path d="M1105.2,1464.0400000000002v-5.5M1105.2,23.9v5.5" stroke-width="1.4"/>
<path d="M1120.0,1464.0400000000002v-11M1120.0,23.9v11" stroke-width="1.8"/>
<path d="M1217.7,1464.0400000000002v-5.5M1217.7,23.9v5.5" stroke-width="1.4"/>
<path d="M1274.8,1464.0400000000002v-5.5M1274.8,23.9v5.5" stroke-width="1.4"/>
<path d="M1315.3,1464.0400000000002v-5.5M1315.3,23.9v5.5" stroke-width="1.4"/>
<path d="M1346.7,1464.0400000000002v-5.5M1346.7,23.9v5.5" stroke-width="1.4"/>
<path d="M1372.4,1464.0400000000002v-5.5M1372.4,23.9v5.5" stroke-width="1.4"/>
<path d="M1394.1,1464.0400000000002v-5.5M1394.1,23.9v5.5" stroke-width="1.4"/>
<path d="M1413.0,1464.0400000000002v-5.5M1413.0,23.9v5.5" stroke-width="1.4"/>
<path d="M1429.6,1464.0400000000002v-5.5M1429.6,23.9v5.5" stroke-width="1.4"/>
<path d="M1444.4,1464.0400000000002v-11M1444.4,23.9v11" stroke-width="1.8"/>
<path d="M1542.1,1464.0400000000002v-5.5M1542.1,23.9v5.5" stroke-width="1.4"/>
<path d="M146.8,23.9h11M1542.1,23.9h-11" stroke-width="1.8"/>
<path d="M146.8,134.7h11M1542.1,134.7h-11" stroke-width="1.8"/>
<path d="M146.8,245.5h11M1542.1,245.5h-11" stroke-width="1.8"/>
<path d="M146.8,356.2h11M1542.1,356.2h-11" stroke-width="1.8"/>
<path d="M146.8,467.0h11M1542.1,467.0h-11" stroke-width="1.8"/>
<path d="M146.8,577.8h11M1542.1,577.8h-11" stroke-width="1.8"/>
<path d="M146.8,688.6h11M1542.1,688.6h-11" stroke-width="1.8"/>
<path d="M146.8,799.4h11M1542.1,799.4h-11" stroke-width="1.8"/>
<path d="M146.8,910.1h11M1542.1,910.1h-11" stroke-width="1.8"/>
<path d="M146.8,1020.9h11M1542.1,1020.9h-11" stroke-width="1.8"/>
<path d="M146.8,1131.7h11M1542.1,1131.7h-11" stroke-width="1.8"/>
<path d="M146.8,1242.5h11M1542.1,1242.5h-11" stroke-width="1.8"/>
<path d="M146.8,1353.3h11M1542.1,1353.3h-11" stroke-width="1.8"/>
<path d="M146.8,1464.0h11M1542.1,1464.0h-11" stroke-width="1.8"/>
</g>
<text x="63.2" y="35.4" font-size="35.2" textLength="40.6" lengthAdjust="spacingAndGlyphs" xml:space="preserve" fill="#000" stroke="#000" stroke-width="0.45">10</text>
<text x="103.4" y="17.6" font-size="24.7" textLength="24.2" lengthAdjust="spacingAndGlyphs" xml:space="preserve" fill="#000" stroke="#000" stroke-width="0.45">-9</text>
<text x="47.8" y="146.2" font-size="35.2" textLength="40.6" lengthAdjust="spacingAndGlyphs" xml:space="preserve" fill="#000" stroke="#000" stroke-width="0.45">10</text>
<text x="87.9" y="128.4" font-size="24.7" textLength="39.7" lengthAdjust="spacingAndGlyphs" xml:space="preserve" fill="#000" stroke="#000" stroke-width="0.45">-10</text>
<text x="47.8" y="257.0" font-size="35.2" textLength="40.6" lengthAdjust="spacingAndGlyphs" xml:space="preserve" fill="#000" stroke="#000" stroke-width="0.45">10</text>
<text x="87.9" y="239.2" font-size="24.7" textLength="39.7" lengthAdjust="spacingAndGlyphs" xml:space="preserve" fill="#000" stroke="#000" stroke-width="0.45">-11</text>
<text x="47.8" y="367.7" font-size="35.2" textLength="40.6" lengthAdjust="spacingAndGlyphs" xml:space="preserve" fill="#000" stroke="#000" stroke-width="0.45">10</text>
<text x="87.9" y="349.9" font-size="24.7" textLength="39.7" lengthAdjust="spacingAndGlyphs" xml:space="preserve" fill="#000" stroke="#000" stroke-width="0.45">-12</text>
<text x="47.8" y="478.5" font-size="35.2" textLength="40.6" lengthAdjust="spacingAndGlyphs" xml:space="preserve" fill="#000" stroke="#000" stroke-width="0.45">10</text>
<text x="87.9" y="460.7" font-size="24.7" textLength="39.7" lengthAdjust="spacingAndGlyphs" xml:space="preserve" fill="#000" stroke="#000" stroke-width="0.45">-13</text>
<text x="47.8" y="589.3" font-size="35.2" textLength="40.6" lengthAdjust="spacingAndGlyphs" xml:space="preserve" fill="#000" stroke="#000" stroke-width="0.45">10</text>
<text x="87.9" y="571.5" font-size="24.7" textLength="39.7" lengthAdjust="spacingAndGlyphs" xml:space="preserve" fill="#000" stroke="#000" stroke-width="0.45">-14</text>
<text x="47.8" y="700.1" font-size="35.2" textLength="40.6" lengthAdjust="spacingAndGlyphs" xml:space="preserve" fill="#000" stroke="#000" stroke-width="0.45">10</text>
<text x="87.9" y="682.3" font-size="24.7" textLength="39.7" lengthAdjust="spacingAndGlyphs" xml:space="preserve" fill="#000" stroke="#000" stroke-width="0.45">-15</text>
<text x="47.8" y="810.9" font-size="35.2" textLength="40.6" lengthAdjust="spacingAndGlyphs" xml:space="preserve" fill="#000" stroke="#000" stroke-width="0.45">10</text>
<text x="87.9" y="793.1" font-size="24.7" textLength="39.7" lengthAdjust="spacingAndGlyphs" xml:space="preserve" fill="#000" stroke="#000" stroke-width="0.45">-16</text>
<text x="47.8" y="921.6" font-size="35.2" textLength="40.6" lengthAdjust="spacingAndGlyphs" xml:space="preserve" fill="#000" stroke="#000" stroke-width="0.45">10</text>
<text x="87.9" y="903.8" font-size="24.7" textLength="39.7" lengthAdjust="spacingAndGlyphs" xml:space="preserve" fill="#000" stroke="#000" stroke-width="0.45">-17</text>
<text x="47.8" y="1032.4" font-size="35.2" textLength="40.6" lengthAdjust="spacingAndGlyphs" xml:space="preserve" fill="#000" stroke="#000" stroke-width="0.45">10</text>
<text x="87.9" y="1014.6" font-size="24.7" textLength="39.7" lengthAdjust="spacingAndGlyphs" xml:space="preserve" fill="#000" stroke="#000" stroke-width="0.45">-18</text>
<text x="47.8" y="1143.2" font-size="35.2" textLength="40.6" lengthAdjust="spacingAndGlyphs" xml:space="preserve" fill="#000" stroke="#000" stroke-width="0.45">10</text>
<text x="87.9" y="1125.4" font-size="24.7" textLength="39.7" lengthAdjust="spacingAndGlyphs" xml:space="preserve" fill="#000" stroke="#000" stroke-width="0.45">-19</text>
<text x="47.8" y="1254.0" font-size="35.2" textLength="40.6" lengthAdjust="spacingAndGlyphs" xml:space="preserve" fill="#000" stroke="#000" stroke-width="0.45">10</text>
<text x="87.9" y="1236.2" font-size="24.7" textLength="39.7" lengthAdjust="spacingAndGlyphs" xml:space="preserve" fill="#000" stroke="#000" stroke-width="0.45">-20</text>
<text x="47.8" y="1364.8" font-size="35.2" textLength="40.6" lengthAdjust="spacingAndGlyphs" xml:space="preserve" fill="#000" stroke="#000" stroke-width="0.45">10</text>
<text x="87.9" y="1347.0" font-size="24.7" textLength="39.7" lengthAdjust="spacingAndGlyphs" xml:space="preserve" fill="#000" stroke="#000" stroke-width="0.45">-21</text>
<text x="47.8" y="1475.5" font-size="35.2" textLength="40.6" lengthAdjust="spacingAndGlyphs" xml:space="preserve" fill="#000" stroke="#000" stroke-width="0.45">10</text>
<text x="87.9" y="1457.7" font-size="24.7" textLength="39.7" lengthAdjust="spacingAndGlyphs" xml:space="preserve" fill="#000" stroke="#000" stroke-width="0.45">-22</text>
<text x="102.2" y="1501.0" font-size="35.2" textLength="92.4" lengthAdjust="spacingAndGlyphs" xml:space="preserve" fill="#000" stroke="#000" stroke-width="0.45">0.001</text>
<text x="436.9" y="1501.0" font-size="35.2" textLength="71.8" lengthAdjust="spacingAndGlyphs" xml:space="preserve" fill="#000" stroke="#000" stroke-width="0.45">0.01</text>
<text x="771.5" y="1501.0" font-size="35.2" textLength="51.3" lengthAdjust="spacingAndGlyphs" xml:space="preserve" fill="#000" stroke="#000" stroke-width="0.45">0.1</text>
<text x="1111.3" y="1501.0" font-size="35.2" textLength="20.5" lengthAdjust="spacingAndGlyphs" xml:space="preserve" fill="#000" stroke="#000" stroke-width="0.45">1</text>
<text x="1425.5" y="1501.0" font-size="35.2" textLength="41.0" lengthAdjust="spacingAndGlyphs" xml:space="preserve" fill="#000" stroke="#000" stroke-width="0.45">10</text>
<text x="724.1" y="1547.3" font-size="33.8" textLength="242.2" lengthAdjust="spacingAndGlyphs" xml:space="preserve" fill="#000" stroke="#000" stroke-width="0.45">Spin Period (s)</text>
<g transform="translate(26.1,1063.1) rotate(-90)"><text x="0.0" y="0.0" font-size="33.8" textLength="641.5" lengthAdjust="spacingAndGlyphs" xml:space="preserve" fill="#000" stroke="#000" stroke-width="0.45">Period Derivative (i.e Spin-Down Rate)</text></g>
<rect x="1155.4" y="1082.2" width="366.7" height="361.7" fill="#fff" stroke="#000" stroke-width="2.8"/>
<use href="#d" x="1211.6" y="1113.3"/>
<text x="1283.5" y="1127.6" font-size="39.9" textLength="220.3" lengthAdjust="spacingAndGlyphs" xml:space="preserve" fill="#000" stroke="#000" stroke-width="0.45">Radio PSRs</text>
<use href="#ot" x="1211.6" y="1172"/>
<text x="1283.5" y="1186.3" font-size="39.9" textLength="117.9" lengthAdjust="spacingAndGlyphs" xml:space="preserve" fill="#000" stroke="#000" stroke-width="0.45">X-ray/</text>
<text x="1402.4" y="1186.3" font-family="Liberation Serif, serif" font-style="italic" font-size="45" textLength="21" lengthAdjust="spacingAndGlyphs">γ</text>
<text x="1422.9" y="1186.3" font-size="39.9" textLength="77.7" lengthAdjust="spacingAndGlyphs" xml:space="preserve" fill="#000" stroke="#000" stroke-width="0.45">-ray</text>
<use href="#ci" x="1211.6" y="1233"/>
<text x="1283.5" y="1247.3" font-size="39.9" textLength="158.6" lengthAdjust="spacingAndGlyphs" xml:space="preserve" fill="#000" stroke="#000" stroke-width="0.45">Binaries</text>
<use href="#st" x="1211.6" y="1290.7"/>
<text x="1283.5" y="1305.0" font-size="39.9" textLength="207.7" lengthAdjust="spacingAndGlyphs" xml:space="preserve" fill="#000" stroke="#000" stroke-width="0.45">SNR Assoc</text>
<use href="#ft" x="1211.6" y="1349"/>
<text x="1283.5" y="1363.3" font-size="39.9" textLength="208.2" lengthAdjust="spacingAndGlyphs" xml:space="preserve" fill="#000" stroke="#000" stroke-width="0.45">Magnetars</text>
<use href="#cr" x="1211.6" y="1406"/>
<text x="1283.5" y="1420.3" font-size="39.9" textLength="116" lengthAdjust="spacingAndGlyphs">RRATs</text>
</svg>
</body></html>
